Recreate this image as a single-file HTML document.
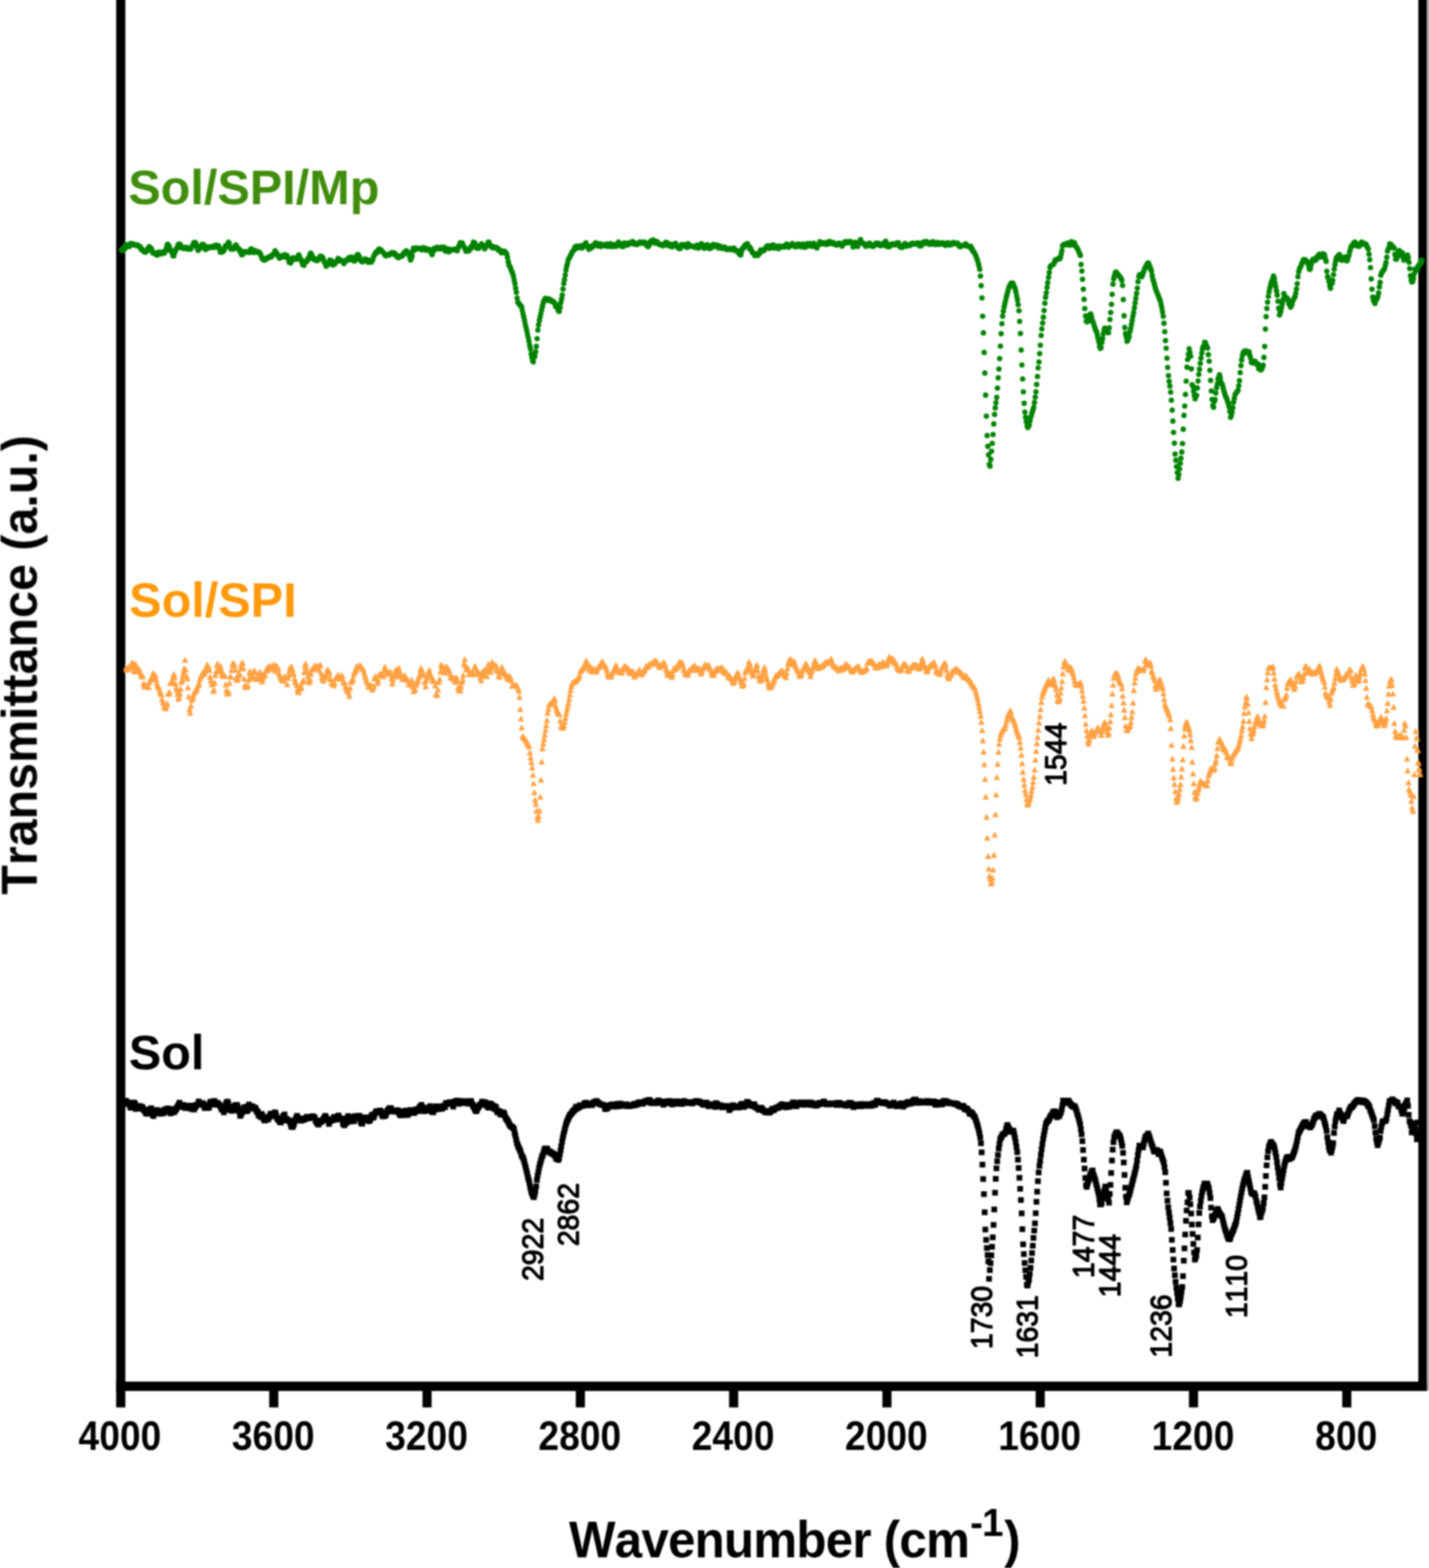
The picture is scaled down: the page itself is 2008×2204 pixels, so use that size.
<!DOCTYPE html>
<html lang="en"><head><meta charset="utf-8"><title>FTIR spectra</title>
<style>
html,body{margin:0;padding:0;background:#fff;}
body{width:2008px;height:2204px;overflow:hidden;}
svg{display:block;font-family:"Liberation Sans",Arial,Helvetica,sans-serif;font-kerning:none;}
</style></head><body>
<svg width="2008" height="2204" viewBox="0 0 2008 2204">
<rect width="2008" height="2204" fill="#fff"/>
<defs><filter id="bl" filterUnits="userSpaceOnUse" x="-20" y="-20" width="2048" height="2244"><feGaussianBlur stdDeviation="0.8"/></filter></defs>
<g filter="url(#bl)">
<g fill="#000">
<rect x="163.2" y="-5" width="12.9" height="1983.3"/>
<rect x="2005" y="-5" width="8" height="1959.6" fill="#bcbcbc"/>
<rect x="1993" y="-5" width="12.5" height="1960"/>
<rect x="163.2" y="1942" width="1842.3" height="13.2"/>
<rect x="378.3" y="1950" width="12.8" height="28.3"/>
<rect x="593.7" y="1950" width="12.8" height="28.3"/>
<rect x="809.1" y="1950" width="12.8" height="28.3"/>
<rect x="1024.5" y="1950" width="12.8" height="28.3"/>
<rect x="1239.9" y="1950" width="12.8" height="28.3"/>
<rect x="1455.3" y="1950" width="12.8" height="28.3"/>
<rect x="1670.7" y="1950" width="12.8" height="28.3"/>
<rect x="1886.1" y="1950" width="12.8" height="28.3"/>
</g>
<path d="M171.3 351.5h0M172.3 350.7h0M173.4 351.7h0M174.4 348.2h0M175.5 349.5h0M176.5 346.5h0M177.5 343.7h0M178.6 345.2h0M179.6 346.2h0M180.7 344.7h0M181.7 346.6h0M182.7 345.3h0M183.8 342.2h0M184.8 344.1h0M185.9 343.3h0M186.9 342.7h0M187.9 343.4h0M189 344.5h0M190 344.8h0M191.1 344.9h0M192.1 344.3h0M193.1 344.4h0M194.2 345.9h0M195.2 345.9h0M196.3 347.1h0M197.3 347.2h0M198.3 350.6h0M199.4 350.1h0M200.4 351.5h0M201.5 352.7h0M202.5 354h0M203.5 353.6h0M204.6 354.6h0M205.6 353.6h0M206.7 352.3h0M207.7 349.6h0M208.7 348.5h0M209.8 346.9h0M210.8 348h0M211.9 350h0M212.9 349.9h0M213.9 353.5h0M215 355.7h0M216 354.7h0M217.1 355.3h0M218.1 356h0M219.1 357.6h0M220.2 358.4h0M221.2 358.5h0M222.3 355.2h0M223.3 354.2h0M224.3 354.5h0M225.4 354.7h0M226.4 356.7h0M227.5 355.4h0M228.5 354.3h0M229.5 354.8h0M230.6 355.9h0M231.6 353.3h0M232.7 353h0M233.7 349.4h0M234.7 344.6h0M235.8 343.2h0M236.8 345.7h0M237.9 346.6h0M238.9 350.6h0M239.9 351.9h0M241 353.9h0M242 355.6h0M243.1 359.6h0M244.1 359.8h0M245.1 356h0M246.2 353.3h0M247.2 350.4h0M248.3 349.7h0M249.3 347.2h0M250.3 344h0M251.4 343h0M252.4 343.5h0M253.5 343.8h0M254.5 348h0M255.5 347.9h0M256.6 348.3h0M257.6 349.3h0M258.7 348.2h0M259.7 349.4h0M260.7 347.5h0M261.8 347.7h0M262.8 349.1h0M263.9 350.1h0M264.9 349.1h0M265.9 350.3h0M267 350h0M268 350.1h0M269.1 347.2h0M270.1 345.6h0M271.1 344.8h0M272.2 341.2h0M273.2 343h0M274.3 340.9h0M275.3 342.7h0M276.3 346.8h0M277.4 349.1h0M278.4 351.9h0M279.5 349.7h0M280.5 349.8h0M281.5 348.5h0M282.6 345.7h0M283.6 343.9h0M284.7 344.3h0M285.7 343.5h0M286.7 344.5h0M287.8 345.9h0M288.8 350.8h0M289.9 349.6h0M290.9 349.2h0M291.9 348.1h0M293 347h0M294 348.2h0M295.1 347.9h0M296.1 347.9h0M297.1 346.8h0M298.2 347h0M299.2 346.6h0M300.3 347.9h0M301.3 346.5h0M302.3 344.9h0M303.4 345.3h0M304.4 344.7h0M305.5 347.6h0M306.5 345.2h0M307.5 346.5h0M308.6 349.7h0M309.6 354.5h0M310.7 353.7h0M311.7 354.5h0M312.7 353.8h0M313.8 352.7h0M314.8 352.1h0M315.9 348.2h0M316.9 345.3h0M317.9 344.7h0M319 344.5h0M320 344.3h0M321.1 340.5h0M322.1 342.3h0M323.1 347.8h0M324.2 349.7h0M325.2 350.2h0M326.3 350.1h0M327.3 348.8h0M328.3 349.9h0M329.4 347.2h0M330.4 345.8h0M331.5 344.2h0M332.5 345.9h0M333.5 348.8h0M334.6 349h0M335.6 349.9h0M336.7 352.8h0M337.7 351.7h0M338.7 356.1h0M339.8 358.2h0M340.8 357.7h0M341.9 355.5h0M342.9 353.7h0M343.9 354.7h0M345 353.9h0M346 354.2h0M347.1 354.4h0M348.1 353.8h0M349.1 353.7h0M350.2 354.9h0M351.2 352.7h0M352.3 350.3h0M353.3 349.7h0M354.3 351.2h0M355.4 354.4h0M356.4 354.9h0M357.5 352.4h0M358.5 352.2h0M359.5 353.7h0M360.6 354.5h0M361.6 353.9h0M362.7 354.7h0M363.7 354h0M364.7 355.8h0M365.8 356.5h0M366.8 359.3h0M367.9 362h0M368.9 364.2h0M369.9 364.3h0M371 365.8h0M372 364.7h0M373.1 365.1h0M374.1 363.6h0M375.1 362.3h0M376.2 362.4h0M377.2 362.4h0M378.3 362.1h0M379.3 360.4h0M380.3 361.3h0M381.4 361h0M382.4 358.7h0M383.5 357.7h0M384.5 356.9h0M385.5 355.6h0M386.6 352.6h0M387.6 355.1h0M388.7 355.6h0M389.7 357.8h0M390.7 359.9h0M391.8 360.4h0M392.8 362.9h0M393.9 361.3h0M394.9 361.6h0M395.9 359.5h0M397 359.3h0M398 359.1h0M399.1 361.2h0M400.1 358h0M401.1 358.7h0M402.2 358.9h0M403.2 359.1h0M404.3 362.2h0M405.3 364h0M406.3 368.8h0M407.4 369.2h0M408.4 369.7h0M409.5 367.1h0M410.5 364.6h0M411.5 362.4h0M412.6 362.9h0M413.6 364.5h0M414.7 364h0M415.7 364.2h0M416.7 362.7h0M417.8 364.1h0M418.8 360.3h0M419.9 358.2h0M420.9 361.6h0M421.9 363.8h0M423 365.1h0M424 367.4h0M425.1 371.6h0M426.1 372.5h0M427.1 373h0M428.2 368.7h0M429.2 368.1h0M430.3 366.9h0M431.3 367.6h0M432.3 364.2h0M433.4 364.3h0M434.4 361.2h0M435.5 358.1h0M436.5 355.9h0M437.5 357h0M438.6 360.1h0M439.6 362.2h0M440.7 364.6h0M441.7 363.3h0M442.7 363.9h0M443.8 366.1h0M444.8 364.5h0M445.9 366.2h0M446.9 365.4h0M447.9 364.4h0M449 362.1h0M450 360.4h0M451.1 360.2h0M452.1 361.2h0M453.1 361.2h0M454.2 364.1h0M455.2 366.7h0M456.3 368.8h0M457.3 371.3h0M458.3 374.2h0M459.4 372.4h0M460.4 372.2h0M461.5 370.9h0M462.5 369.1h0M463.5 365.6h0M464.6 367.4h0M465.6 366.3h0M466.7 370.9h0M467.7 372.5h0M468.7 370.6h0M469.8 371.8h0M470.8 368.8h0M471.9 368.5h0M472.9 368.1h0M473.9 366.2h0M475 363.4h0M476 363.7h0M477.1 365.8h0M478.1 366.7h0M479.1 365.8h0M480.2 366.3h0M481.2 367.3h0M482.3 368h0M483.3 370.4h0M484.3 367.8h0M485.4 366.6h0M486.4 366.7h0M487.5 364.8h0M488.5 365.5h0M489.5 365.5h0M490.6 362.1h0M491.6 362.4h0M492.7 362.5h0M493.7 361.4h0M494.7 365.2h0M495.8 363.1h0M496.8 365.2h0M497.9 367.1h0M498.9 366h0M499.9 363.4h0M501 359.9h0M502 358.4h0M503.1 357.7h0M504.1 360.6h0M505.1 361h0M506.2 365.6h0M507.2 366.6h0M508.3 367.7h0M509.3 368.1h0M510.3 367h0M511.4 366.9h0M512.4 364.3h0M513.5 364.1h0M514.5 365.5h0M515.5 365.2h0M516.6 367.6h0M517.6 368.8h0M518.7 365.8h0M519.7 367.6h0M520.7 367.2h0M521.8 368.5h0M522.8 365.5h0M523.9 365h0M524.9 360.8h0M525.9 359.3h0M527 356.8h0M528 354.9h0M529.1 353.7h0M530.1 355.1h0M531.1 353.4h0M532.2 350.4h0M533.2 350h0M534.3 351.5h0M535.3 351.4h0M536.3 352.8h0M537.4 353.7h0M538.4 354.7h0M539.5 356.4h0M540.5 357.3h0M541.5 359.3h0M542.6 359.7h0M543.6 357.9h0M544.7 358.8h0M545.7 358.5h0M546.7 358.4h0M547.8 357h0M548.8 356.1h0M549.9 357h0M550.9 355.1h0M551.9 355.7h0M553 355.2h0M554 355.5h0M555.1 357.8h0M556.1 357.7h0M557.1 360.3h0M558.2 360.4h0M559.2 362.1h0M560.3 362.1h0M561.3 360.6h0M562.3 359.9h0M563.4 360.4h0M564.4 360.3h0M565.5 359.6h0M566.5 357.5h0M567.5 355.2h0M568.6 356.6h0M569.6 356.3h0M570.7 352.6h0M571.7 353.1h0M572.7 354.4h0M573.8 355.3h0M574.8 357.6h0M575.9 361.7h0M576.9 365.5h0M577.9 363h0M579 359.9h0M580 353.3h0M581.1 348.9h0M582.1 348.9h0M583.1 351.3h0M584.2 350.5h0M585.2 349.8h0M586.3 348.6h0M587.3 348.7h0M588.3 349h0M589.4 349.3h0M590.4 349.9h0M591.5 350.6h0M592.5 351.2h0M593.5 348.5h0M594.6 348.2h0M595.6 348.3h0M596.7 349.8h0M597.7 350.4h0M598.7 351.8h0M599.8 349.8h0M600.8 350.9h0M601.9 350.7h0M602.9 350.5h0M603.9 351.5h0M605 354h0M606 354.6h0M607.1 357.9h0M608.1 354.3h0M609.1 352h0M610.2 349h0M611.2 348.7h0M612.3 350.5h0M613.3 349h0M614.3 347.6h0M615.4 348.2h0M616.4 348.5h0M617.5 349.5h0M618.5 350.1h0M619.5 347.7h0M620.6 349.2h0M621.6 347.4h0M622.7 348h0M623.7 348.4h0M624.7 347.9h0M625.8 353h0M626.8 353.1h0M627.9 351.8h0M628.9 351.4h0M629.9 350h0M631 353.9h0M632 351.5h0M633.1 350.5h0M634.1 351.4h0M635.1 351.3h0M636.2 351.1h0M637.2 351.2h0M638.3 350.2h0M639.3 350.3h0M640.3 350.9h0M641.4 351.4h0M642.4 352.4h0M643.5 349h0M644.5 346.7h0M645.5 344.9h0M646.6 341.2h0M647.6 343h0M648.7 341.2h0M649.7 341.7h0M650.7 345.4h0M651.8 346.6h0M652.8 348.6h0M653.9 350h0M654.9 353.2h0M655.9 351.3h0M657 353h0M658 352.6h0M659.1 352.4h0M660.1 349.8h0M661.1 347.9h0M662.2 348.9h0M663.2 346.4h0M664.3 343.5h0M665.3 340.4h0M666.3 341.8h0M667.4 341.7h0M668.4 345.5h0M669.5 348.3h0M670.5 348.9h0M671.5 349h0M672.6 349h0M673.6 347h0M674.7 345.3h0M675.7 344.6h0M676.7 342.8h0M677.8 345.5h0M678.8 345.4h0M679.9 346.1h0M680.9 349.7h0M681.9 348.8h0M683 345.9h0M684 344.7h0M685.1 343.2h0M686.1 340.2h0M687.1 340.5h0M688.2 344.1h0M689.2 344.9h0M690.3 346.8h0M691.3 347.6h0M692.3 348.4h0M693.4 346.9h0M694.4 348.1h0M695.5 348.4h0M696.5 348.6h0M697.5 347.9h0M698.6 348.6h0M699.6 349.3h0M700.7 352h0M701.7 351.2h0M702.7 351.8h0M703.8 353.6h0M704.8 355.4h0M705.9 352.9h0M706.9 354.6h0M707.9 354.9h0M709 353.3h0M710 354.7h0M711.1 355.5h0M712.1 357h0M713.1 361.7h0M714.2 367.9h0M715.2 372.7h0M716.3 374h0M717.3 376.5h0M718.3 379.8h0M719.4 382.2h0M720.4 384.2h0M721.5 388.4h0M722.5 393.5h0M723.5 398.6h0M724.6 405.1h0M725.6 411h0M726.7 419.1h0M727.7 424.9h0M728.7 426.1h0M729.8 427.4h0M730.8 428.9h0M731.9 429.9h0M732.9 431.3h0M733.9 436h0M735 441.2h0M736 445.5h0M737.1 450.4h0M738.1 455.7h0M739.1 460h0M740.2 464.7h0M741.2 469.8h0M742.3 474.7h0M743.3 480h0M744.3 485.6h0M745.4 490.4h0M746.4 497.6h0M747.5 502.9h0M748.5 507.2h0M749.5 508.7h0M750.6 502.2h0M751.6 500.5h0M752.7 494.6h0M753.7 486.9h0M754.7 476h0M755.8 464h0M756.8 456.8h0M757.9 450.5h0M758.9 445.6h0M759.9 441.2h0M761 436.1h0M762 431h0M763.1 426.9h0M764.1 423.6h0M765.1 421.5h0M766.2 419.5h0M767.2 419.6h0M768.3 419.7h0M769.3 422h0M770.3 421.6h0M771.4 420.4h0M772.4 422.1h0M773.5 421.2h0M774.5 423.5h0M775.5 422.8h0M776.6 423.4h0M777.6 424.8h0M778.7 424.7h0M779.7 426.7h0M780.7 430.7h0M781.8 429h0M782.8 431.6h0M783.9 434.9h0M784.9 437.2h0M785.9 437.8h0M787 432.2h0M788 425.5h0M789.1 420.3h0M790.1 414.7h0M791.1 406.4h0M792.2 398.5h0M793.2 393.1h0M794.3 386.5h0M795.3 379.6h0M796.3 374.2h0M797.4 370.2h0M798.4 365.7h0M799.5 363.1h0M800.5 361.8h0M801.5 359.4h0M802.6 357.7h0M803.6 355.1h0M804.7 353.3h0M805.7 352.2h0M806.7 350.9h0M807.8 347.6h0M808.8 347.7h0M809.9 346h0M810.9 348.7h0M811.9 347h0M813 347.3h0M814 345.8h0M815.1 346.5h0M816.1 348.3h0M817.1 347.7h0M818.2 348.6h0M819.2 344.8h0M820.3 346.4h0M821.3 344h0M822.3 344.4h0M823.4 341.2h0M824.4 346h0M825.5 346.3h0M826.5 347.3h0M827.5 350.6h0M828.6 349.6h0M829.6 349h0M830.7 348.6h0M831.7 345.5h0M832.7 346h0M833.8 346.3h0M834.8 345.4h0M835.9 342.6h0M836.9 341.4h0M837.9 342.5h0M839 343.4h0M840 345.4h0M841.1 344.6h0M842.1 342.5h0M843.1 346.2h0M844.2 346.6h0M845.2 343.2h0M846.3 343.8h0M847.3 343.7h0M848.3 344.7h0M849.4 345h0M850.4 345.7h0M851.5 345.8h0M852.5 343.1h0M853.5 346.3h0M854.6 344.9h0M855.6 346.2h0M856.7 344.5h0M857.7 342.6h0M858.7 345h0M859.8 346.7h0M860.8 345.1h0M861.9 345.7h0M862.9 345.5h0M863.9 343.8h0M865 346.4h0M866 344.5h0M867.1 343.6h0M868.1 343.3h0M869.1 340.3h0M870.2 342.6h0M871.2 345.5h0M872.3 344.3h0M873.3 343.3h0M874.3 346.3h0M875.4 346.8h0M876.4 344.3h0M877.5 341.5h0M878.5 342.1h0M879.5 343.8h0M880.6 343.7h0M881.6 344.6h0M882.7 342.3h0M883.7 341.4h0M884.7 342.6h0M885.8 341.9h0M886.8 341.4h0M887.9 342.4h0M888.9 339.5h0M889.9 340.6h0M891 341.3h0M892 343.3h0M893.1 342.4h0M894.1 343.7h0M895.1 343.7h0M896.2 343h0M897.2 342.3h0M898.3 341.2h0M899.3 340.1h0M900.3 341.7h0M901.4 341h0M902.4 342h0M903.5 340.6h0M904.5 340.5h0M905.5 340.4h0M906.6 341.2h0M907.6 342.4h0M908.7 345.1h0M909.7 343.4h0M910.7 346.8h0M911.8 345.3h0M912.8 342.3h0M913.9 339.6h0M914.9 341h0M915.9 338.1h0M917 338.4h0M918 337.4h0M919.1 338.8h0M920.1 341.8h0M921.1 341.2h0M922.2 341.3h0M923.2 339.5h0M924.3 341.5h0M925.3 343h0M926.3 342.7h0M927.4 344h0M928.4 343.8h0M929.5 343.8h0M930.5 345.1h0M931.5 345.4h0M932.6 343.3h0M933.6 343.1h0M934.7 344.4h0M935.7 340.6h0M936.7 343.6h0M937.8 341.2h0M938.8 343.9h0M939.9 345.5h0M940.9 344.4h0M941.9 345.7h0M943 343.2h0M944 346.9h0M945.1 345.7h0M946.1 344.3h0M947.1 345.5h0M948.2 344.6h0M949.2 342h0M950.3 345.6h0M951.3 347h0M952.3 347.6h0M953.4 348.3h0M954.4 349.5h0M955.5 349.4h0M956.5 347h0M957.5 343.9h0M958.6 345.1h0M959.6 345.9h0M960.7 344h0M961.7 343.8h0M962.7 345.4h0M963.8 346.3h0M964.8 347.4h0M965.9 347.8h0M966.9 342.5h0M967.9 344.5h0M969 344.9h0M970 345.7h0M971.1 345.6h0M972.1 346.2h0M973.1 346.4h0M974.2 346.8h0M975.2 347.4h0M976.3 347.2h0M977.3 346.4h0M978.3 348h0M979.4 344.5h0M980.4 345.2h0M981.5 348.8h0M982.5 347.8h0M983.5 347.1h0M984.6 346.4h0M985.6 342.6h0M986.7 346.8h0M987.7 344.2h0M988.7 345.4h0M989.8 349.1h0M990.8 347.1h0M991.9 348.1h0M992.9 347.4h0M993.9 344h0M995 344.7h0M996 347.7h0M997.1 349.5h0M998.1 348.9h0M999.1 345.8h0M1000.2 348.1h0M1001.2 346.5h0M1002.3 343.6h0M1003.3 346h0M1004.3 345.9h0M1005.4 345.3h0M1006.4 345.3h0M1007.5 344.2h0M1008.5 347.5h0M1009.5 348.6h0M1010.6 347.8h0M1011.6 346h0M1012.7 347h0M1013.7 347.9h0M1014.7 349.3h0M1015.8 347.6h0M1016.8 348.2h0M1017.9 347.3h0M1018.9 348.1h0M1019.9 349.9h0M1021 350.7h0M1022 349.5h0M1023.1 350.7h0M1024.1 350.7h0M1025.1 349.2h0M1026.2 350h0M1027.2 349.6h0M1028.3 351h0M1029.3 350.9h0M1030.3 350.1h0M1031.4 348.7h0M1032.4 350.7h0M1033.5 351.3h0M1034.5 353h0M1035.5 352.6h0M1036.6 352.8h0M1037.6 352.9h0M1038.7 356.8h0M1039.7 357.7h0M1040.7 358.5h0M1041.8 354.7h0M1042.8 350.3h0M1043.9 348.4h0M1044.9 348.8h0M1045.9 346.7h0M1047 344.4h0M1048 344.4h0M1049.1 343.2h0M1050.1 342.5h0M1051.1 345.5h0M1052.2 346.2h0M1053.2 349.8h0M1054.3 348.2h0M1055.3 351.2h0M1056.3 352.6h0M1057.4 355.2h0M1058.4 355.7h0M1059.5 356.3h0M1060.5 359.2h0M1061.5 358.5h0M1062.6 356.9h0M1063.6 358.1h0M1064.7 359.1h0M1065.7 357.8h0M1066.7 355.5h0M1067.8 355.8h0M1068.8 351.4h0M1069.9 352.4h0M1070.9 352.1h0M1071.9 351.3h0M1073 352.5h0M1074 351.6h0M1075.1 349.6h0M1076.1 348.2h0M1077.1 347.3h0M1078.2 345.6h0M1079.2 348.2h0M1080.3 345.7h0M1081.3 349.3h0M1082.3 346.5h0M1083.4 345.4h0M1084.4 345.6h0M1085.5 345h0M1086.5 344.4h0M1087.5 348.7h0M1088.6 348.4h0M1089.6 347.4h0M1090.7 346h0M1091.7 346.7h0M1092.7 346.5h0M1093.8 349.5h0M1094.8 345.9h0M1095.9 346.6h0M1096.9 346.7h0M1097.9 347.5h0M1099 346.4h0M1100 346.1h0M1101.1 346.7h0M1102.1 347.2h0M1103.1 345.2h0M1104.2 345.7h0M1105.2 343h0M1106.3 345h0M1107.3 344.7h0M1108.3 347.5h0M1109.4 345.3h0M1110.4 345.5h0M1111.5 343.8h0M1112.5 345h0M1113.5 342.2h0M1114.6 345h0M1115.6 345.3h0M1116.7 346.6h0M1117.7 346h0M1118.7 346.7h0M1119.8 346.7h0M1120.8 343h0M1121.9 343.6h0M1122.9 343.4h0M1123.9 344.1h0M1125 345.6h0M1126 347h0M1127.1 345.8h0M1128.1 343h0M1129.1 346.8h0M1130.2 346.5h0M1131.2 347.8h0M1132.3 344.2h0M1133.3 345.9h0M1134.3 342.6h0M1135.4 345.7h0M1136.4 343.7h0M1137.5 344.1h0M1138.5 342.4h0M1139.5 345.8h0M1140.6 344.9h0M1141.6 346.2h0M1142.7 343.5h0M1143.7 342h0M1144.7 343.9h0M1145.8 345.1h0M1146.8 347.2h0M1147.9 348.6h0M1148.9 344.9h0M1149.9 344.3h0M1151 343.7h0M1152 339.7h0M1153.1 340.6h0M1154.1 342.6h0M1155.1 342.8h0M1156.2 342.4h0M1157.2 341.4h0M1158.3 342.6h0M1159.3 343.3h0M1160.3 341.2h0M1161.4 341h0M1162.4 343.5h0M1163.5 342.9h0M1164.5 342.5h0M1165.5 339.4h0M1166.6 340.5h0M1167.6 342.2h0M1168.7 342.2h0M1169.7 341.6h0M1170.7 340.8h0M1171.8 342.3h0M1172.8 343.6h0M1173.9 343.4h0M1174.9 343.8h0M1175.9 344.6h0M1177 342.6h0M1178 342.1h0M1179.1 342.2h0M1180.1 341.7h0M1181.1 343.6h0M1182.2 343.4h0M1183.2 346h0M1184.3 343.2h0M1185.3 342.7h0M1186.3 342.5h0M1187.4 339.8h0M1188.4 341.5h0M1189.5 341h0M1190.5 339.5h0M1191.5 340.4h0M1192.6 341.1h0M1193.6 339.7h0M1194.7 339.3h0M1195.7 340.2h0M1196.7 341.6h0M1197.8 341.9h0M1198.8 347.2h0M1199.9 344.6h0M1200.9 343.3h0M1201.9 340.6h0M1203 341.3h0M1204 342.6h0M1205.1 346.5h0M1206.1 341.8h0M1207.1 341.7h0M1208.2 340.4h0M1209.2 336.8h0M1210.3 339.7h0M1211.3 341.9h0M1212.3 341.7h0M1213.4 342h0M1214.4 343h0M1215.5 344.2h0M1216.5 346.2h0M1217.5 344.8h0M1218.6 345.6h0M1219.6 343.4h0M1220.7 342.3h0M1221.7 341.9h0M1222.7 344.6h0M1223.8 343.6h0M1224.8 345.9h0M1225.9 345.5h0M1226.9 346.4h0M1227.9 345.1h0M1229 343.8h0M1230 343.8h0M1231.1 341.9h0M1232.1 341.9h0M1233.1 343.7h0M1234.2 344.2h0M1235.2 342.3h0M1236.3 344.5h0M1237.3 345.2h0M1238.3 344.6h0M1239.4 344.5h0M1240.4 344.7h0M1241.5 344.2h0M1242.5 341.2h0M1243.5 341h0M1244.6 339h0M1245.6 343.4h0M1246.7 346.8h0M1247.7 345.7h0M1248.7 347h0M1249.8 346.7h0M1250.8 343.5h0M1251.9 344.7h0M1252.9 343.9h0M1253.9 342.7h0M1255 343h0M1256 343.9h0M1257.1 344.1h0M1258.1 344.2h0M1259.1 342.6h0M1260.2 341.5h0M1261.2 342.1h0M1262.3 341.2h0M1263.3 343.4h0M1264.3 346.2h0M1265.4 347.4h0M1266.4 347.2h0M1267.5 347.9h0M1268.5 345.3h0M1269.5 346.3h0M1270.6 345.2h0M1271.6 342.3h0M1272.7 345h0M1273.7 346.1h0M1274.7 344.9h0M1275.8 345.1h0M1276.8 344.1h0M1277.9 343.7h0M1278.9 345.1h0M1279.9 343.1h0M1281 342.3h0M1282 341.9h0M1283.1 342.9h0M1284.1 342.8h0M1285.1 343.2h0M1286.2 343.2h0M1287.2 342.6h0M1288.3 341.5h0M1289.3 341.8h0M1290.3 341.6h0M1291.4 342.5h0M1292.4 345.7h0M1293.5 343.6h0M1294.5 345.4h0M1295.5 341.7h0M1296.6 342h0M1297.6 340.2h0M1298.7 342.3h0M1299.7 339.7h0M1300.7 341.6h0M1301.8 339.5h0M1302.8 341.4h0M1303.9 341.3h0M1304.9 343.1h0M1305.9 343.3h0M1307 342.2h0M1308 340.8h0M1309.1 343.2h0M1310.1 341.7h0M1311.1 339.7h0M1312.2 341.3h0M1313.2 342.2h0M1314.3 343.8h0M1315.3 343.7h0M1316.3 342.5h0M1317.4 340.9h0M1318.4 341.9h0M1319.5 343.4h0M1320.5 342h0M1321.5 341.9h0M1322.6 342.8h0M1323.6 343.1h0M1324.7 341.3h0M1325.7 342.4h0M1326.7 343.1h0M1327.8 344.3h0M1328.8 345h0M1329.9 342.2h0M1330.9 341.2h0M1331.9 343.6h0M1333 341.5h0M1334 342.7h0M1335.1 344.5h0M1336.1 343.3h0M1337.1 342.1h0M1338.2 343.1h0M1339.2 341.1h0M1340.3 341h0M1341.3 342.1h0M1342.3 342.7h0M1343.4 341.8h0M1344.4 342h0M1345.5 341.8h0M1346.5 343.1h0M1347.5 344.9h0M1348.6 346.8h0M1349.6 346.7h0M1350.7 345.8h0M1351.7 345.3h0M1352.7 345.3h0M1353.8 344.7h0M1354.8 345.1h0M1355.9 343.9h0M1356.9 342.7h0M1357.9 345.4h0M1359 345.5h0M1360 345.5h0M1361.1 346.8h0M1362.1 346.7h0M1363.1 346.2h0M1364.2 346.2h0M1365.2 350.1h0M1366.3 350.3h0M1367.3 353.5h0M1368.3 354h0M1369.4 355.6h0M1370.4 358.1h0M1371.5 360h0M1372.5 362.9h0M1373.5 365.7h0M1374.6 369.5h0M1375.6 373.5h0M1376.7 378.6h0M1377.7 388h0M1378.7 401.6h0M1379.8 418.8h0M1380.8 444.5h0M1381.9 467.9h0M1382.9 495.4h0M1383.9 524.4h0M1385 555.4h0M1386 585h0M1387.1 612.3h0M1388.1 627.4h0M1389.1 639.4h0M1390.2 652.6h0M1391.2 655.3h0M1392.3 645.8h0M1393.3 634.3h0M1394.3 623.3h0M1395.4 610.8h0M1396.4 595.9h0M1397.5 582.6h0M1398.5 573.4h0M1399.5 566h0M1400.6 558.6h0M1401.6 545.6h0M1402.7 531.1h0M1403.7 518.8h0M1404.7 504.1h0M1405.8 486.5h0M1406.8 469.1h0M1407.9 455h0M1408.9 444.5h0M1409.9 437.5h0M1411 431.5h0M1412 426.8h0M1413.1 422.2h0M1414.1 417.4h0M1415.1 413.6h0M1416.2 409.2h0M1417.2 405.8h0M1418.3 402.6h0M1419.3 401.4h0M1420.3 398.9h0M1421.4 397.8h0M1422.4 397.9h0M1423.5 398.3h0M1424.5 401h0M1425.5 403.6h0M1426.6 406.2h0M1427.6 410.6h0M1428.7 416.3h0M1429.7 421.6h0M1430.7 428.3h0M1431.8 436.8h0M1432.8 451.7h0M1433.9 468.7h0M1434.9 492.1h0M1435.9 513h0M1437 532.8h0M1438 550.8h0M1439.1 566.9h0M1440.1 579.2h0M1441.1 586.6h0M1442.2 592.7h0M1443.2 598.5h0M1444.3 601h0M1445.3 599.1h0M1446.3 597.3h0M1447.4 591.2h0M1448.4 586.5h0M1449.5 582.7h0M1450.5 579.3h0M1451.5 576h0M1452.6 572.8h0M1453.6 565.9h0M1454.7 558.2h0M1455.7 550.8h0M1456.7 540.4h0M1457.8 529.3h0M1458.8 517h0M1459.9 508.8h0M1460.9 497.1h0M1461.9 485.3h0M1463 471.5h0M1464 462.2h0M1465.1 454.1h0M1466.1 445.9h0M1467.1 436.6h0M1468.2 426.2h0M1469.2 417.9h0M1470.3 411.6h0M1471.3 404.1h0M1472.3 397.3h0M1473.4 389.7h0M1474.4 383h0M1475.5 375.9h0M1476.5 373.8h0M1477.5 373h0M1478.6 372.5h0M1479.6 372h0M1480.7 371.1h0M1481.7 368.8h0M1482.7 365.5h0M1483.8 366h0M1484.8 364.6h0M1485.9 364.5h0M1486.9 363.4h0M1487.9 364.1h0M1489 363.9h0M1490 361.9h0M1491.1 357.6h0M1492.1 352.2h0M1493.1 345.4h0M1494.2 344.1h0M1495.2 344.1h0M1496.3 343.5h0M1497.3 342.8h0M1498.3 343.1h0M1499.4 344.1h0M1500.4 341.5h0M1501.5 342.4h0M1502.5 342.4h0M1503.5 344.6h0M1504.6 340.9h0M1505.6 339.8h0M1506.7 344h0M1507.7 341.8h0M1508.7 343.7h0M1509.8 341.2h0M1510.8 345h0M1511.9 346.4h0M1512.9 347.8h0M1513.9 349.5h0M1515 351.3h0M1516 354.2h0M1517.1 356.6h0M1518.1 359h0M1519.1 371.8h0M1520.2 381h0M1521.2 392.6h0M1522.3 406.5h0M1523.3 420.7h0M1524.3 433.7h0M1525.4 444h0M1526.4 451.2h0M1527.5 452.5h0M1528.5 451.9h0M1529.5 448.8h0M1530.6 445.6h0M1531.6 442.1h0M1532.7 441.4h0M1533.7 445.4h0M1534.7 450.1h0M1535.8 452.2h0M1536.8 455.3h0M1537.9 458.7h0M1538.9 461.8h0M1539.9 464.7h0M1541 466.8h0M1542 471.4h0M1543.1 476.1h0M1544.1 480.7h0M1545.1 486.7h0M1546.2 489.8h0M1547.2 488.6h0M1548.3 481.2h0M1549.3 475.9h0M1550.3 469.3h0M1551.4 464.6h0M1552.4 461.2h0M1553.5 463.4h0M1554.5 464.4h0M1555.5 465.2h0M1556.6 466.5h0M1557.6 467.8h0M1558.7 460.9h0M1559.7 449.1h0M1560.7 439.3h0M1561.8 427.8h0M1562.8 413.8h0M1563.9 399.5h0M1564.9 392h0M1565.9 387.7h0M1567 384.1h0M1568 382.3h0M1569.1 383.3h0M1570.1 384.7h0M1571.1 386h0M1572.2 387.4h0M1573.2 388.2h0M1574.3 389.9h0M1575.3 391.6h0M1576.3 393.9h0M1577.4 401.3h0M1578.4 421.1h0M1579.5 443.9h0M1580.5 460.4h0M1581.5 468.7h0M1582.6 473.7h0M1583.6 479.8h0M1584.7 478.1h0M1585.7 475.5h0M1586.7 472.8h0M1587.8 465.9h0M1588.8 461.9h0M1589.9 456.1h0M1590.9 450.6h0M1591.9 444.8h0M1593 439.2h0M1594 432.7h0M1595.1 425.9h0M1596.1 419.3h0M1597.1 412.5h0M1598.2 405h0M1599.2 396h0M1600.3 388.8h0M1601.3 386h0M1602.3 387.2h0M1603.4 387.8h0M1604.4 388.9h0M1605.5 386.3h0M1606.5 383.1h0M1607.5 380.7h0M1608.6 377h0M1609.6 376.6h0M1610.7 373h0M1611.7 372h0M1612.7 369.9h0M1613.8 369.8h0M1614.8 372.5h0M1615.9 374.9h0M1616.9 377.9h0M1617.9 380.9h0M1619 387.2h0M1620 392.5h0M1621.1 395.6h0M1622.1 399.4h0M1623.1 403.6h0M1624.2 407.2h0M1625.2 409.8h0M1626.3 412.6h0M1627.3 414.8h0M1628.3 417.5h0M1629.4 420.3h0M1630.4 422.8h0M1631.5 427.9h0M1632.5 432.6h0M1633.5 438.3h0M1634.6 444.6h0M1635.6 454.4h0M1636.7 466.3h0M1637.7 478.7h0M1638.7 489.5h0M1639.8 503.5h0M1640.8 516.5h0M1641.9 528h0M1642.9 536.1h0M1643.9 542.7h0M1645 551.2h0M1646 562.6h0M1647.1 576.6h0M1648.1 591.9h0M1649.1 607.7h0M1650.2 623h0M1651.2 638.2h0M1652.3 646.9h0M1653.3 655.7h0M1654.3 664.2h0M1655.4 672.3h0M1656.4 667.1h0M1657.5 659.3h0M1658.5 651.3h0M1659.5 644.1h0M1660.6 635.4h0M1661.6 623.5h0M1662.7 603.4h0M1663.7 583.9h0M1664.7 570.8h0M1665.8 554.4h0M1666.8 535.8h0M1667.9 516.1h0M1668.9 505.2h0M1669.9 498.1h0M1671 490.3h0M1672 495.2h0M1673.1 500.7h0M1674.1 518.6h0M1675.1 540.7h0M1676.2 542.9h0M1677.2 550h0M1678.3 555.7h0M1679.3 560.6h0M1680.3 556.5h0M1681.4 555.7h0M1682.4 545.4h0M1683.5 535.6h0M1684.5 526.3h0M1685.5 518.9h0M1686.6 510.7h0M1687.6 503.2h0M1688.7 496.3h0M1689.7 490.3h0M1690.7 487.2h0M1691.8 486.2h0M1692.8 481.1h0M1693.9 481.7h0M1694.9 485.3h0M1695.9 487.2h0M1697 489.2h0M1698 498.5h0M1699.1 507.8h0M1700.1 520.5h0M1701.1 534.7h0M1702.2 549.5h0M1703.2 561.6h0M1704.3 570h0M1705.3 572.5h0M1706.3 564.6h0M1707.4 561.6h0M1708.4 552.5h0M1709.5 545.1h0M1710.5 539.8h0M1711.5 532.7h0M1712.6 530h0M1713.6 526.7h0M1714.7 531.2h0M1715.7 536.8h0M1716.7 539.4h0M1717.8 541h0M1718.8 545.2h0M1719.9 549.5h0M1720.9 553h0M1721.9 556.5h0M1723 558.6h0M1724 561h0M1725.1 564.5h0M1726.1 567.4h0M1727.1 572h0M1728.2 578.4h0M1729.2 586.6h0M1730.3 584.1h0M1731.3 578.9h0M1732.3 573h0M1733.4 565.5h0M1734.4 560.1h0M1735.5 554.8h0M1736.5 553.2h0M1737.5 551.5h0M1738.6 550.3h0M1739.6 548.9h0M1740.7 542.2h0M1741.7 535h0M1742.7 523.8h0M1743.8 513.9h0M1744.8 505.9h0M1745.9 499.6h0M1746.9 495.7h0M1747.9 494.6h0M1749 493.2h0M1750 495.8h0M1751.1 493.3h0M1752.1 493.8h0M1753.1 494.9h0M1754.2 496.6h0M1755.2 494.6h0M1756.3 499.4h0M1757.3 503.3h0M1758.3 509.2h0M1759.4 510.1h0M1760.4 508.6h0M1761.5 509.6h0M1762.5 509.2h0M1763.5 507.9h0M1764.6 510.4h0M1765.6 511.9h0M1766.7 512.5h0M1767.7 511.6h0M1768.7 518.3h0M1769.8 518.9h0M1770.8 518.7h0M1771.9 519.9h0M1772.9 518.7h0M1773.9 516.2h0M1775 513.3h0M1776 502.4h0M1777.1 487.1h0M1778.1 462.6h0M1779.1 445.1h0M1780.2 433.6h0M1781.2 424.7h0M1782.3 416.5h0M1783.3 410h0M1784.3 404.8h0M1785.4 400.8h0M1786.4 396.7h0M1787.5 394.4h0M1788.5 391.8h0M1789.5 388.1h0M1790.6 391.9h0M1791.6 397.5h0M1792.7 402.9h0M1793.7 408.9h0M1794.7 415h0M1795.8 423.6h0M1796.8 433.4h0M1797.9 442.8h0M1798.9 439.8h0M1799.9 436.6h0M1801 431.6h0M1802 426.5h0M1803.1 420.7h0M1804.1 412.8h0M1805.1 415.9h0M1806.2 419.5h0M1807.2 419.8h0M1808.3 418.7h0M1809.3 420h0M1810.3 422.7h0M1811.4 427.2h0M1812.4 428.8h0M1813.5 431.8h0M1814.5 429.8h0M1815.5 427.4h0M1816.6 423h0M1817.6 421h0M1818.7 418.5h0M1819.7 417.2h0M1820.7 412.6h0M1821.8 406.4h0M1822.8 398.7h0M1823.9 389h0M1824.9 382.1h0M1825.9 378.3h0M1827 375.7h0M1828 374.4h0M1829.1 370.7h0M1830.1 368.8h0M1831.1 365.8h0M1832.2 364.8h0M1833.2 367h0M1834.3 365.2h0M1835.3 366.3h0M1836.3 368.1h0M1837.4 368.9h0M1838.4 372.1h0M1839.5 377.5h0M1840.5 378.8h0M1841.5 377h0M1842.6 371.4h0M1843.6 367h0M1844.7 365.1h0M1845.7 364.4h0M1846.7 364.4h0M1847.8 366.2h0M1848.8 364h0M1849.9 364.4h0M1850.9 360.7h0M1851.9 360.4h0M1853 358.6h0M1854 357.4h0M1855.1 361h0M1856.1 361.2h0M1857.1 358.6h0M1858.2 357.7h0M1859.2 356.8h0M1860.3 357.2h0M1861.3 358.6h0M1862.3 363.4h0M1863.4 367.4h0M1864.4 381.2h0M1865.5 388.9h0M1866.5 391h0M1867.5 395.7h0M1868.6 401.9h0M1869.6 405.3h0M1870.7 399.1h0M1871.7 398.4h0M1872.7 394.1h0M1873.8 386h0M1874.8 378.2h0M1875.9 372.1h0M1876.9 366.7h0M1877.9 362.4h0M1879 363.6h0M1880 360.3h0M1881.1 359.1h0M1882.1 357.9h0M1883.1 361.1h0M1884.2 365.3h0M1885.2 365.7h0M1886.3 365.8h0M1887.3 363.9h0M1888.3 363.8h0M1889.4 361.4h0M1890.4 362.9h0M1891.5 364.3h0M1892.5 366.8h0M1893.5 365.8h0M1894.6 360.9h0M1895.6 358.5h0M1896.7 353.3h0M1897.7 349.5h0M1898.7 346h0M1899.8 345.6h0M1900.8 345.2h0M1901.9 341.9h0M1902.9 341.6h0M1903.9 340.4h0M1905 345.1h0M1906 344.4h0M1907.1 345h0M1908.1 345.9h0M1909.1 343.2h0M1910.2 346.1h0M1911.2 343.9h0M1912.3 342.8h0M1913.3 340.4h0M1914.3 341h0M1915.4 343.3h0M1916.4 342.8h0M1917.5 342.3h0M1918.5 342.7h0M1919.5 343.2h0M1920.6 345.7h0M1921.6 347.9h0M1922.7 350h0M1923.7 357.2h0M1924.7 365.1h0M1925.8 376.2h0M1926.8 392.1h0M1927.9 406.5h0M1928.9 417.5h0M1929.9 421.9h0M1931 424.2h0M1932 426.5h0M1933.1 423.1h0M1934.1 421h0M1935.1 419.4h0M1936.2 416.6h0M1937.2 411.7h0M1938.3 403.4h0M1939.3 396.7h0M1940.3 386.9h0M1941.4 383.5h0M1942.4 382.1h0M1943.5 380.6h0M1944.5 379.6h0M1945.5 377.5h0M1946.6 373h0M1947.6 368.9h0M1948.7 361.5h0M1949.7 353h0M1950.7 350.3h0M1951.8 348.4h0M1952.8 342.9h0M1953.9 345.2h0M1954.9 343.7h0M1955.9 347.4h0M1957 346.9h0M1958 347.3h0M1959.1 348.9h0M1960.1 357.5h0M1961.1 364.3h0M1962.2 364.4h0M1963.2 361.8h0M1964.3 357.2h0M1965.3 353.9h0M1966.3 352.3h0M1967.4 354.7h0M1968.4 358.2h0M1969.5 357.5h0M1970.5 355.4h0M1971.5 361.3h0M1972.6 365.8h0M1973.6 364.6h0M1974.7 362.2h0M1975.7 360.3h0M1976.7 359.9h0M1977.8 358.6h0M1978.8 361.9h0M1979.9 368.8h0M1980.9 377.6h0M1981.9 387.6h0M1983 393.7h0M1984 396.5h0M1985.1 395.8h0M1986.1 391.4h0M1987.1 385.1h0M1988.2 378.2h0M1989.2 378.6h0M1990.3 380.2h0M1991.3 377.6h0M1992.3 374.8h0M1993.4 373.5h0M1994.4 371.6h0M1995.5 370h0M1996.5 368.3h0M1997.5 366.4h0" fill="none" stroke="#068206" stroke-width="7.6" stroke-linecap="round"/>
<path d="M177.8 935l3.8 7.2h-7.6zM178.8 937.1l3.8 7.2h-7.6zM179.9 937.7l3.8 7.2h-7.6zM180.9 933.7l3.8 7.2h-7.6zM182 934.4l3.8 7.2h-7.6zM183 934.7l3.8 7.2h-7.6zM184 931.9l3.8 7.2h-7.6zM185.1 928.1l3.8 7.2h-7.6zM186.1 927.9l3.8 7.2h-7.6zM187.2 932.8l3.8 7.2h-7.6zM188.2 937.4l3.8 7.2h-7.6zM189.2 940.3l3.8 7.2h-7.6zM190.3 929.2l3.8 7.2h-7.6zM191.3 932.7l3.8 7.2h-7.6zM192.4 937l3.8 7.2h-7.6zM193.4 938.7l3.8 7.2h-7.6zM194.4 937.8l3.8 7.2h-7.6zM195.5 936.8l3.8 7.2h-7.6zM196.5 940.3l3.8 7.2h-7.6zM197.6 943.8l3.8 7.2h-7.6zM198.6 945.4l3.8 7.2h-7.6zM199.6 947.4l3.8 7.2h-7.6zM200.7 946.6l3.8 7.2h-7.6zM201.7 957.3l3.8 7.2h-7.6zM202.8 961.3l3.8 7.2h-7.6zM203.8 958.2l3.8 7.2h-7.6zM204.8 960.8l3.8 7.2h-7.6zM205.9 960.8l3.8 7.2h-7.6zM206.9 960.3l3.8 7.2h-7.6zM208 962.3l3.8 7.2h-7.6zM209 962.3l3.8 7.2h-7.6zM210 955.6l3.8 7.2h-7.6zM211.1 951.6l3.8 7.2h-7.6zM212.1 950.5l3.8 7.2h-7.6zM213.2 950.7l3.8 7.2h-7.6zM214.2 949l3.8 7.2h-7.6zM215.2 942.3l3.8 7.2h-7.6zM216.3 946l3.8 7.2h-7.6zM217.3 947.1l3.8 7.2h-7.6zM218.4 945.6l3.8 7.2h-7.6zM219.4 951.4l3.8 7.2h-7.6zM220.4 956.5l3.8 7.2h-7.6zM221.5 960.1l3.8 7.2h-7.6zM222.5 962.5l3.8 7.2h-7.6zM223.6 963.4l3.8 7.2h-7.6zM224.6 967.7l3.8 7.2h-7.6zM225.6 970.2l3.8 7.2h-7.6zM226.7 972.2l3.8 7.2h-7.6zM227.7 979l3.8 7.2h-7.6zM228.8 983.8l3.8 7.2h-7.6zM229.8 984l3.8 7.2h-7.6zM230.8 989.5l3.8 7.2h-7.6zM231.9 990.2l3.8 7.2h-7.6zM232.9 992.2l3.8 7.2h-7.6zM234 987.5l3.8 7.2h-7.6zM235 985l3.8 7.2h-7.6zM236 971.7l3.8 7.2h-7.6zM237.1 971.3l3.8 7.2h-7.6zM238.1 969l3.8 7.2h-7.6zM239.2 956.6l3.8 7.2h-7.6zM240.2 955.8l3.8 7.2h-7.6zM241.2 955.1l3.8 7.2h-7.6zM242.3 952.7l3.8 7.2h-7.6zM243.3 947.2l3.8 7.2h-7.6zM244.4 943.8l3.8 7.2h-7.6zM245.4 948.4l3.8 7.2h-7.6zM246.4 957.1l3.8 7.2h-7.6zM247.5 962.8l3.8 7.2h-7.6zM248.5 966.3l3.8 7.2h-7.6zM249.6 972.1l3.8 7.2h-7.6zM250.6 978.8l3.8 7.2h-7.6zM251.6 975.9l3.8 7.2h-7.6zM252.7 971l3.8 7.2h-7.6zM253.7 964.3l3.8 7.2h-7.6zM254.8 955l3.8 7.2h-7.6zM255.8 952l3.8 7.2h-7.6zM256.8 946.9l3.8 7.2h-7.6zM257.9 941.1l3.8 7.2h-7.6zM258.9 935.9l3.8 7.2h-7.6zM260 923.9l3.8 7.2h-7.6zM261 937.5l3.8 7.2h-7.6zM262 946.3l3.8 7.2h-7.6zM263.1 950.2l3.8 7.2h-7.6zM264.1 962.8l3.8 7.2h-7.6zM265.2 975.4l3.8 7.2h-7.6zM266.2 993.6l3.8 7.2h-7.6zM267.2 998.5l3.8 7.2h-7.6zM268.3 988.4l3.8 7.2h-7.6zM269.3 980.6l3.8 7.2h-7.6zM270.4 977.7l3.8 7.2h-7.6zM271.4 975.6l3.8 7.2h-7.6zM272.4 971.3l3.8 7.2h-7.6zM273.5 967.9l3.8 7.2h-7.6zM274.5 968l3.8 7.2h-7.6zM275.6 966.9l3.8 7.2h-7.6zM276.6 963.9l3.8 7.2h-7.6zM277.6 960.8l3.8 7.2h-7.6zM278.7 958.6l3.8 7.2h-7.6zM279.7 957.5l3.8 7.2h-7.6zM280.8 951.6l3.8 7.2h-7.6zM281.8 947.8l3.8 7.2h-7.6zM282.8 946.3l3.8 7.2h-7.6zM283.9 943.3l3.8 7.2h-7.6zM284.9 941.8l3.8 7.2h-7.6zM286 941.7l3.8 7.2h-7.6zM287 944l3.8 7.2h-7.6zM288 940.6l3.8 7.2h-7.6zM289.1 935.2l3.8 7.2h-7.6zM290.1 937.2l3.8 7.2h-7.6zM291.2 930.3l3.8 7.2h-7.6zM292.2 932.5l3.8 7.2h-7.6zM293.2 934.1l3.8 7.2h-7.6zM294.3 938.5l3.8 7.2h-7.6zM295.3 947.9l3.8 7.2h-7.6zM296.4 953.1l3.8 7.2h-7.6zM297.4 958.1l3.8 7.2h-7.6zM298.4 957.7l3.8 7.2h-7.6zM299.5 967.8l3.8 7.2h-7.6zM300.5 965.8l3.8 7.2h-7.6zM301.6 955.8l3.8 7.2h-7.6zM302.6 945.1l3.8 7.2h-7.6zM303.6 940.5l3.8 7.2h-7.6zM304.7 931.4l3.8 7.2h-7.6zM305.7 929.2l3.8 7.2h-7.6zM306.8 940.1l3.8 7.2h-7.6zM307.8 934.3l3.8 7.2h-7.6zM308.8 934.9l3.8 7.2h-7.6zM309.9 932.7l3.8 7.2h-7.6zM310.9 938.1l3.8 7.2h-7.6zM312 943.4l3.8 7.2h-7.6zM313 946.1l3.8 7.2h-7.6zM314 946.8l3.8 7.2h-7.6zM315.1 946.2l3.8 7.2h-7.6zM316.1 946l3.8 7.2h-7.6zM317.2 958.3l3.8 7.2h-7.6zM318.2 966.6l3.8 7.2h-7.6zM319.2 971.1l3.8 7.2h-7.6zM320.3 971.5l3.8 7.2h-7.6zM321.3 969l3.8 7.2h-7.6zM322.4 956.2l3.8 7.2h-7.6zM323.4 947.4l3.8 7.2h-7.6zM324.4 947.5l3.8 7.2h-7.6zM325.5 938.1l3.8 7.2h-7.6zM326.5 930.3l3.8 7.2h-7.6zM327.6 929.5l3.8 7.2h-7.6zM328.6 928.5l3.8 7.2h-7.6zM329.6 931.8l3.8 7.2h-7.6zM330.7 937.8l3.8 7.2h-7.6zM331.7 948.8l3.8 7.2h-7.6zM332.8 952.1l3.8 7.2h-7.6zM333.8 950.8l3.8 7.2h-7.6zM334.8 944.6l3.8 7.2h-7.6zM335.9 946.5l3.8 7.2h-7.6zM336.9 944.1l3.8 7.2h-7.6zM338 936.2l3.8 7.2h-7.6zM339 930.1l3.8 7.2h-7.6zM340 927.7l3.8 7.2h-7.6zM341.1 928.3l3.8 7.2h-7.6zM342.1 935.9l3.8 7.2h-7.6zM343.2 950.4l3.8 7.2h-7.6zM344.2 959.6l3.8 7.2h-7.6zM345.2 961.4l3.8 7.2h-7.6zM346.3 962.2l3.8 7.2h-7.6zM347.3 961.5l3.8 7.2h-7.6zM348.4 959.5l3.8 7.2h-7.6zM349.4 951.7l3.8 7.2h-7.6zM350.4 941.5l3.8 7.2h-7.6zM351.5 939.8l3.8 7.2h-7.6zM352.5 944.1l3.8 7.2h-7.6zM353.6 947.5l3.8 7.2h-7.6zM354.6 949.5l3.8 7.2h-7.6zM355.6 946.3l3.8 7.2h-7.6zM356.7 939.9l3.8 7.2h-7.6zM357.7 938.9l3.8 7.2h-7.6zM358.8 941.3l3.8 7.2h-7.6zM359.8 950.8l3.8 7.2h-7.6zM360.8 949.7l3.8 7.2h-7.6zM361.9 950.1l3.8 7.2h-7.6zM362.9 950.8l3.8 7.2h-7.6zM364 944.6l3.8 7.2h-7.6zM365 940.4l3.8 7.2h-7.6zM366 943.2l3.8 7.2h-7.6zM367.1 948.3l3.8 7.2h-7.6zM368.1 954.5l3.8 7.2h-7.6zM369.2 950.5l3.8 7.2h-7.6zM370.2 943.4l3.8 7.2h-7.6zM371.2 946.6l3.8 7.2h-7.6zM372.3 945.8l3.8 7.2h-7.6zM373.3 939.6l3.8 7.2h-7.6zM374.4 937.8l3.8 7.2h-7.6zM375.4 934.9l3.8 7.2h-7.6zM376.4 938.4l3.8 7.2h-7.6zM377.5 936.6l3.8 7.2h-7.6zM378.5 931.9l3.8 7.2h-7.6zM379.6 933l3.8 7.2h-7.6zM380.6 935.5l3.8 7.2h-7.6zM381.6 934l3.8 7.2h-7.6zM382.7 936l3.8 7.2h-7.6zM383.7 935.3l3.8 7.2h-7.6zM384.8 929.8l3.8 7.2h-7.6zM385.8 932.7l3.8 7.2h-7.6zM386.8 939.4l3.8 7.2h-7.6zM387.9 935.1l3.8 7.2h-7.6zM388.9 932.1l3.8 7.2h-7.6zM390 934.2l3.8 7.2h-7.6zM391 935.6l3.8 7.2h-7.6zM392 942.1l3.8 7.2h-7.6zM393.1 944.9l3.8 7.2h-7.6zM394.1 948.3l3.8 7.2h-7.6zM395.2 950.1l3.8 7.2h-7.6zM396.2 950.9l3.8 7.2h-7.6zM397.2 953.4l3.8 7.2h-7.6zM398.3 951.6l3.8 7.2h-7.6zM399.3 947.9l3.8 7.2h-7.6zM400.4 947.5l3.8 7.2h-7.6zM401.4 948.4l3.8 7.2h-7.6zM402.4 948.9l3.8 7.2h-7.6zM403.5 958.2l3.8 7.2h-7.6zM404.5 949.1l3.8 7.2h-7.6zM405.6 945.6l3.8 7.2h-7.6zM406.6 939.1l3.8 7.2h-7.6zM407.6 934.6l3.8 7.2h-7.6zM408.7 935.7l3.8 7.2h-7.6zM409.7 933.5l3.8 7.2h-7.6zM410.8 936.9l3.8 7.2h-7.6zM411.8 942.1l3.8 7.2h-7.6zM412.8 943.7l3.8 7.2h-7.6zM413.9 950.3l3.8 7.2h-7.6zM414.9 954.8l3.8 7.2h-7.6zM416 955.7l3.8 7.2h-7.6zM417 959.8l3.8 7.2h-7.6zM418 966.1l3.8 7.2h-7.6zM419.1 969.4l3.8 7.2h-7.6zM420.1 969.3l3.8 7.2h-7.6zM421.2 963.7l3.8 7.2h-7.6zM422.2 964.4l3.8 7.2h-7.6zM423.2 962.1l3.8 7.2h-7.6zM424.3 955.7l3.8 7.2h-7.6zM425.3 953.6l3.8 7.2h-7.6zM426.4 952.2l3.8 7.2h-7.6zM427.4 941.2l3.8 7.2h-7.6zM428.4 932.8l3.8 7.2h-7.6zM429.5 929l3.8 7.2h-7.6zM430.5 934.6l3.8 7.2h-7.6zM431.6 941l3.8 7.2h-7.6zM432.6 946.7l3.8 7.2h-7.6zM433.6 953.1l3.8 7.2h-7.6zM434.7 955.6l3.8 7.2h-7.6zM435.7 951.7l3.8 7.2h-7.6zM436.8 943.8l3.8 7.2h-7.6zM437.8 937.6l3.8 7.2h-7.6zM438.8 937.9l3.8 7.2h-7.6zM439.9 936.1l3.8 7.2h-7.6zM440.9 934.2l3.8 7.2h-7.6zM442 932l3.8 7.2h-7.6zM443 931.9l3.8 7.2h-7.6zM444 935.8l3.8 7.2h-7.6zM445.1 935l3.8 7.2h-7.6zM446.1 932.8l3.8 7.2h-7.6zM447.2 933.3l3.8 7.2h-7.6zM448.2 937.9l3.8 7.2h-7.6zM449.2 931.5l3.8 7.2h-7.6zM450.3 930.9l3.8 7.2h-7.6zM451.3 942.5l3.8 7.2h-7.6zM452.4 948l3.8 7.2h-7.6zM453.4 950.8l3.8 7.2h-7.6zM454.4 953.2l3.8 7.2h-7.6zM455.5 949.4l3.8 7.2h-7.6zM456.5 946.5l3.8 7.2h-7.6zM457.6 947.2l3.8 7.2h-7.6zM458.6 943.8l3.8 7.2h-7.6zM459.6 937.6l3.8 7.2h-7.6zM460.7 940.5l3.8 7.2h-7.6zM461.7 938.7l3.8 7.2h-7.6zM462.8 942.6l3.8 7.2h-7.6zM463.8 949.9l3.8 7.2h-7.6zM464.8 951.5l3.8 7.2h-7.6zM465.9 956.9l3.8 7.2h-7.6zM466.9 957.1l3.8 7.2h-7.6zM468 957.1l3.8 7.2h-7.6zM469 959.8l3.8 7.2h-7.6zM470 956.3l3.8 7.2h-7.6zM471.1 950l3.8 7.2h-7.6zM472.1 948.8l3.8 7.2h-7.6zM473.2 949.6l3.8 7.2h-7.6zM474.2 947.4l3.8 7.2h-7.6zM475.2 944.5l3.8 7.2h-7.6zM476.3 947l3.8 7.2h-7.6zM477.3 949.3l3.8 7.2h-7.6zM478.4 948.5l3.8 7.2h-7.6zM479.4 950.9l3.8 7.2h-7.6zM480.4 945.5l3.8 7.2h-7.6zM481.5 947.1l3.8 7.2h-7.6zM482.5 956.1l3.8 7.2h-7.6zM483.6 955.6l3.8 7.2h-7.6zM484.6 956.3l3.8 7.2h-7.6zM485.6 961l3.8 7.2h-7.6zM486.7 964.1l3.8 7.2h-7.6zM487.7 967.5l3.8 7.2h-7.6zM488.8 966.2l3.8 7.2h-7.6zM489.8 969.8l3.8 7.2h-7.6zM490.8 974.7l3.8 7.2h-7.6zM491.9 963.3l3.8 7.2h-7.6zM492.9 954.4l3.8 7.2h-7.6zM494 954.9l3.8 7.2h-7.6zM495 953.2l3.8 7.2h-7.6zM496 950.2l3.8 7.2h-7.6zM497.1 944.6l3.8 7.2h-7.6zM498.1 940.2l3.8 7.2h-7.6zM499.2 940.7l3.8 7.2h-7.6zM500.2 938l3.8 7.2h-7.6zM501.2 932.7l3.8 7.2h-7.6zM502.3 934.3l3.8 7.2h-7.6zM503.3 934.2l3.8 7.2h-7.6zM504.4 935.2l3.8 7.2h-7.6zM505.4 931.4l3.8 7.2h-7.6zM506.4 931.9l3.8 7.2h-7.6zM507.5 933.1l3.8 7.2h-7.6zM508.5 935.1l3.8 7.2h-7.6zM509.6 935.7l3.8 7.2h-7.6zM510.6 937.1l3.8 7.2h-7.6zM511.6 941l3.8 7.2h-7.6zM512.7 945.2l3.8 7.2h-7.6zM513.7 948.7l3.8 7.2h-7.6zM514.8 953l3.8 7.2h-7.6zM515.8 953.8l3.8 7.2h-7.6zM516.8 957l3.8 7.2h-7.6zM517.9 961.8l3.8 7.2h-7.6zM518.9 961.1l3.8 7.2h-7.6zM520 961.8l3.8 7.2h-7.6zM521 958.9l3.8 7.2h-7.6zM522 960.8l3.8 7.2h-7.6zM523.1 965.7l3.8 7.2h-7.6zM524.1 963l3.8 7.2h-7.6zM525.2 960.7l3.8 7.2h-7.6zM526.2 950.1l3.8 7.2h-7.6zM527.2 946.9l3.8 7.2h-7.6zM528.3 949.8l3.8 7.2h-7.6zM529.3 949.9l3.8 7.2h-7.6zM530.4 956.5l3.8 7.2h-7.6zM531.4 952.8l3.8 7.2h-7.6zM532.4 945.2l3.8 7.2h-7.6zM533.5 943.9l3.8 7.2h-7.6zM534.5 943.4l3.8 7.2h-7.6zM535.6 944.4l3.8 7.2h-7.6zM536.6 944.2l3.8 7.2h-7.6zM537.6 946.7l3.8 7.2h-7.6zM538.7 946.9l3.8 7.2h-7.6zM539.7 938.7l3.8 7.2h-7.6zM540.8 933.6l3.8 7.2h-7.6zM541.8 937.2l3.8 7.2h-7.6zM542.8 939.2l3.8 7.2h-7.6zM543.9 942.7l3.8 7.2h-7.6zM544.9 941.4l3.8 7.2h-7.6zM546 943.7l3.8 7.2h-7.6zM547 942.9l3.8 7.2h-7.6zM548 940.4l3.8 7.2h-7.6zM549.1 941.1l3.8 7.2h-7.6zM550.1 949.4l3.8 7.2h-7.6zM551.2 957.3l3.8 7.2h-7.6zM552.2 952.1l3.8 7.2h-7.6zM553.2 946.6l3.8 7.2h-7.6zM554.3 946.8l3.8 7.2h-7.6zM555.3 942.5l3.8 7.2h-7.6zM556.4 937.4l3.8 7.2h-7.6zM557.4 943.1l3.8 7.2h-7.6zM558.4 947l3.8 7.2h-7.6zM559.5 939.2l3.8 7.2h-7.6zM560.5 934.9l3.8 7.2h-7.6zM561.6 941.3l3.8 7.2h-7.6zM562.6 946.8l3.8 7.2h-7.6zM563.6 944.4l3.8 7.2h-7.6zM564.7 946.4l3.8 7.2h-7.6zM565.7 951l3.8 7.2h-7.6zM566.8 950.1l3.8 7.2h-7.6zM567.8 947.1l3.8 7.2h-7.6zM568.8 945.6l3.8 7.2h-7.6zM569.9 947.2l3.8 7.2h-7.6zM570.9 949.4l3.8 7.2h-7.6zM572 951.9l3.8 7.2h-7.6zM573 952.3l3.8 7.2h-7.6zM574 957.8l3.8 7.2h-7.6zM575.1 957.6l3.8 7.2h-7.6zM576.1 957.4l3.8 7.2h-7.6zM577.2 959l3.8 7.2h-7.6zM578.2 951.9l3.8 7.2h-7.6zM579.2 955l3.8 7.2h-7.6zM580.3 961.7l3.8 7.2h-7.6zM581.3 968l3.8 7.2h-7.6zM582.4 965.1l3.8 7.2h-7.6zM583.4 965.8l3.8 7.2h-7.6zM584.4 959.2l3.8 7.2h-7.6zM585.5 956l3.8 7.2h-7.6zM586.5 952l3.8 7.2h-7.6zM587.6 953.3l3.8 7.2h-7.6zM588.6 948.2l3.8 7.2h-7.6zM589.6 944.8l3.8 7.2h-7.6zM590.7 939.1l3.8 7.2h-7.6zM591.7 935.3l3.8 7.2h-7.6zM592.8 938.2l3.8 7.2h-7.6zM593.8 945.1l3.8 7.2h-7.6zM594.8 944.2l3.8 7.2h-7.6zM595.9 944.9l3.8 7.2h-7.6zM596.9 954.9l3.8 7.2h-7.6zM598 961.1l3.8 7.2h-7.6zM599 951.6l3.8 7.2h-7.6zM600 948l3.8 7.2h-7.6zM601.1 945.7l3.8 7.2h-7.6zM602.1 941.1l3.8 7.2h-7.6zM603.2 937.9l3.8 7.2h-7.6zM604.2 942.8l3.8 7.2h-7.6zM605.2 944.7l3.8 7.2h-7.6zM606.3 947.5l3.8 7.2h-7.6zM607.3 952.7l3.8 7.2h-7.6zM608.4 952.7l3.8 7.2h-7.6zM609.4 952.6l3.8 7.2h-7.6zM610.4 954l3.8 7.2h-7.6zM611.5 960.1l3.8 7.2h-7.6zM612.5 972.6l3.8 7.2h-7.6zM613.6 973.5l3.8 7.2h-7.6zM614.6 973.1l3.8 7.2h-7.6zM615.6 965.6l3.8 7.2h-7.6zM616.7 955.1l3.8 7.2h-7.6zM617.7 950.7l3.8 7.2h-7.6zM618.8 940.4l3.8 7.2h-7.6zM619.8 930.6l3.8 7.2h-7.6zM620.8 933.3l3.8 7.2h-7.6zM621.9 932.7l3.8 7.2h-7.6zM622.9 934.7l3.8 7.2h-7.6zM624 939.1l3.8 7.2h-7.6zM625 941.8l3.8 7.2h-7.6zM626 935.3l3.8 7.2h-7.6zM627.1 932.9l3.8 7.2h-7.6zM628.1 934.4l3.8 7.2h-7.6zM629.2 936.7l3.8 7.2h-7.6zM630.2 937.6l3.8 7.2h-7.6zM631.2 938.7l3.8 7.2h-7.6zM632.3 943l3.8 7.2h-7.6zM633.3 948.2l3.8 7.2h-7.6zM634.4 948.9l3.8 7.2h-7.6zM635.4 948.8l3.8 7.2h-7.6zM636.4 949l3.8 7.2h-7.6zM637.5 951.1l3.8 7.2h-7.6zM638.5 949.1l3.8 7.2h-7.6zM639.6 954.9l3.8 7.2h-7.6zM640.6 951.9l3.8 7.2h-7.6zM641.6 948.6l3.8 7.2h-7.6zM642.7 953.2l3.8 7.2h-7.6zM643.7 962.8l3.8 7.2h-7.6zM644.8 966.2l3.8 7.2h-7.6zM645.8 964l3.8 7.2h-7.6zM646.8 967.3l3.8 7.2h-7.6zM647.9 961.2l3.8 7.2h-7.6zM648.9 955.2l3.8 7.2h-7.6zM650 951.9l3.8 7.2h-7.6zM651 945.4l3.8 7.2h-7.6zM652 929.3l3.8 7.2h-7.6zM653.1 922.9l3.8 7.2h-7.6zM654.1 931.7l3.8 7.2h-7.6zM655.2 936.1l3.8 7.2h-7.6zM656.2 937.2l3.8 7.2h-7.6zM657.2 934.7l3.8 7.2h-7.6zM658.3 938l3.8 7.2h-7.6zM659.3 943.9l3.8 7.2h-7.6zM660.4 941.5l3.8 7.2h-7.6zM661.4 943.8l3.8 7.2h-7.6zM662.4 943.1l3.8 7.2h-7.6zM663.5 942.5l3.8 7.2h-7.6zM664.5 941.6l3.8 7.2h-7.6zM665.6 944.4l3.8 7.2h-7.6zM666.6 935.1l3.8 7.2h-7.6zM667.6 932.3l3.8 7.2h-7.6zM668.7 935.9l3.8 7.2h-7.6zM669.7 942.8l3.8 7.2h-7.6zM670.8 941.3l3.8 7.2h-7.6zM671.8 942.2l3.8 7.2h-7.6zM672.8 941.7l3.8 7.2h-7.6zM673.9 943.8l3.8 7.2h-7.6zM674.9 948.3l3.8 7.2h-7.6zM676 952.8l3.8 7.2h-7.6zM677 946.4l3.8 7.2h-7.6zM678 940.4l3.8 7.2h-7.6zM679.1 946.4l3.8 7.2h-7.6zM680.1 943.3l3.8 7.2h-7.6zM681.2 937.2l3.8 7.2h-7.6zM682.2 937.5l3.8 7.2h-7.6zM683.2 939.3l3.8 7.2h-7.6zM684.3 946.9l3.8 7.2h-7.6zM685.3 937.8l3.8 7.2h-7.6zM686.4 929.8l3.8 7.2h-7.6zM687.4 934.7l3.8 7.2h-7.6zM688.4 935.7l3.8 7.2h-7.6zM689.5 940.8l3.8 7.2h-7.6zM690.5 935.3l3.8 7.2h-7.6zM691.6 926.6l3.8 7.2h-7.6zM692.6 929.3l3.8 7.2h-7.6zM693.6 930.3l3.8 7.2h-7.6zM694.7 932l3.8 7.2h-7.6zM695.7 932.1l3.8 7.2h-7.6zM696.8 931l3.8 7.2h-7.6zM697.8 937.7l3.8 7.2h-7.6zM698.8 937.9l3.8 7.2h-7.6zM699.9 940.1l3.8 7.2h-7.6zM700.9 946.3l3.8 7.2h-7.6zM702 947.8l3.8 7.2h-7.6zM703 942.4l3.8 7.2h-7.6zM704 941.9l3.8 7.2h-7.6zM705.1 933.7l3.8 7.2h-7.6zM706.1 937l3.8 7.2h-7.6zM707.2 938.9l3.8 7.2h-7.6zM708.2 940.7l3.8 7.2h-7.6zM709.2 941.4l3.8 7.2h-7.6zM710.3 943.9l3.8 7.2h-7.6zM711.3 946.2l3.8 7.2h-7.6zM712.4 946.6l3.8 7.2h-7.6zM713.4 949.3l3.8 7.2h-7.6zM714.4 951.1l3.8 7.2h-7.6zM715.5 946.3l3.8 7.2h-7.6zM716.5 947.8l3.8 7.2h-7.6zM717.6 948.9l3.8 7.2h-7.6zM718.6 953.2l3.8 7.2h-7.6zM719.6 960.4l3.8 7.2h-7.6zM720.7 960l3.8 7.2h-7.6zM721.7 959.8l3.8 7.2h-7.6zM722.8 960l3.8 7.2h-7.6zM723.8 959.9l3.8 7.2h-7.6zM724.8 959.6l3.8 7.2h-7.6zM725.9 959.4l3.8 7.2h-7.6zM726.9 960.7l3.8 7.2h-7.6zM728 963.7l3.8 7.2h-7.6zM729 967.5l3.8 7.2h-7.6zM730 976l3.8 7.2h-7.6zM731.1 993l3.8 7.2h-7.6zM732.1 1006.5l3.8 7.2h-7.6zM733.2 1019.1l3.8 7.2h-7.6zM734.2 1031.3l3.8 7.2h-7.6zM735.2 1032.1l3.8 7.2h-7.6zM736.3 1033.2l3.8 7.2h-7.6zM737.3 1034.6l3.8 7.2h-7.6zM738.4 1035.7l3.8 7.2h-7.6zM739.4 1037.1l3.8 7.2h-7.6zM740.4 1039.3l3.8 7.2h-7.6zM741.5 1041.3l3.8 7.2h-7.6zM742.5 1043.3l3.8 7.2h-7.6zM743.6 1045.5l3.8 7.2h-7.6zM744.6 1054.1l3.8 7.2h-7.6zM745.6 1061.2l3.8 7.2h-7.6zM746.7 1067.9l3.8 7.2h-7.6zM747.7 1075.4l3.8 7.2h-7.6zM748.8 1085.5l3.8 7.2h-7.6zM749.8 1097.5l3.8 7.2h-7.6zM750.8 1110l3.8 7.2h-7.6zM751.9 1120.5l3.8 7.2h-7.6zM752.9 1126.6l3.8 7.2h-7.6zM754 1136.2l3.8 7.2h-7.6zM755 1144.8l3.8 7.2h-7.6zM756 1148.9l3.8 7.2h-7.6zM757.1 1143.5l3.8 7.2h-7.6zM758.1 1135.4l3.8 7.2h-7.6zM759.2 1116.5l3.8 7.2h-7.6zM760.2 1092.4l3.8 7.2h-7.6zM761.2 1067l3.8 7.2h-7.6zM762.3 1048.2l3.8 7.2h-7.6zM763.3 1041.5l3.8 7.2h-7.6zM764.4 1035.4l3.8 7.2h-7.6zM765.4 1029.1l3.8 7.2h-7.6zM766.4 1022.5l3.8 7.2h-7.6zM767.5 1015.9l3.8 7.2h-7.6zM768.5 1008.6l3.8 7.2h-7.6zM769.6 998.1l3.8 7.2h-7.6zM770.6 992.5l3.8 7.2h-7.6zM771.6 987l3.8 7.2h-7.6zM772.7 985.1l3.8 7.2h-7.6zM773.7 985.5l3.8 7.2h-7.6zM774.8 985.4l3.8 7.2h-7.6zM775.8 983.3l3.8 7.2h-7.6zM776.8 981.3l3.8 7.2h-7.6zM777.9 979.8l3.8 7.2h-7.6zM778.9 977.9l3.8 7.2h-7.6zM780 980.2l3.8 7.2h-7.6zM781 988.7l3.8 7.2h-7.6zM782 993.4l3.8 7.2h-7.6zM783.1 996.4l3.8 7.2h-7.6zM784.1 997.4l3.8 7.2h-7.6zM785.2 999.3l3.8 7.2h-7.6zM786.2 1000.5l3.8 7.2h-7.6zM787.2 1009.3l3.8 7.2h-7.6zM788.3 1016.7l3.8 7.2h-7.6zM789.3 1018.9l3.8 7.2h-7.6zM790.4 1018.4l3.8 7.2h-7.6zM791.4 1019.5l3.8 7.2h-7.6zM792.4 1016.5l3.8 7.2h-7.6zM793.5 1011l3.8 7.2h-7.6zM794.5 1005.4l3.8 7.2h-7.6zM795.6 999.9l3.8 7.2h-7.6zM796.6 994.5l3.8 7.2h-7.6zM797.6 989.7l3.8 7.2h-7.6zM798.7 984.8l3.8 7.2h-7.6zM799.7 979l3.8 7.2h-7.6zM800.8 972.8l3.8 7.2h-7.6zM801.8 966.4l3.8 7.2h-7.6zM802.8 960.7l3.8 7.2h-7.6zM803.9 956.7l3.8 7.2h-7.6zM804.9 956.1l3.8 7.2h-7.6zM806 955.4l3.8 7.2h-7.6zM807 954.4l3.8 7.2h-7.6zM808 953.8l3.8 7.2h-7.6zM809.1 953.5l3.8 7.2h-7.6zM810.1 952.9l3.8 7.2h-7.6zM811.2 950.9l3.8 7.2h-7.6zM812.2 949.5l3.8 7.2h-7.6zM813.2 948.2l3.8 7.2h-7.6zM814.3 945.5l3.8 7.2h-7.6zM815.3 940.1l3.8 7.2h-7.6zM816.4 938.6l3.8 7.2h-7.6zM817.4 937.8l3.8 7.2h-7.6zM818.4 935.8l3.8 7.2h-7.6zM819.5 933.8l3.8 7.2h-7.6zM820.5 935.1l3.8 7.2h-7.6zM821.6 932.1l3.8 7.2h-7.6zM822.6 929.5l3.8 7.2h-7.6zM823.6 925l3.8 7.2h-7.6zM824.7 926.6l3.8 7.2h-7.6zM825.7 929.1l3.8 7.2h-7.6zM826.8 930.3l3.8 7.2h-7.6zM827.8 935.4l3.8 7.2h-7.6zM828.8 938.6l3.8 7.2h-7.6zM829.9 934.3l3.8 7.2h-7.6zM830.9 935l3.8 7.2h-7.6zM832 940.2l3.8 7.2h-7.6zM833 940.1l3.8 7.2h-7.6zM834 938l3.8 7.2h-7.6zM835.1 936.6l3.8 7.2h-7.6zM836.1 939.1l3.8 7.2h-7.6zM837.2 939.9l3.8 7.2h-7.6zM838.2 940.2l3.8 7.2h-7.6zM839.2 936.4l3.8 7.2h-7.6zM840.3 934.6l3.8 7.2h-7.6zM841.3 933.1l3.8 7.2h-7.6zM842.4 932.4l3.8 7.2h-7.6zM843.4 933.1l3.8 7.2h-7.6zM844.4 930.8l3.8 7.2h-7.6zM845.5 926.5l3.8 7.2h-7.6zM846.5 926.2l3.8 7.2h-7.6zM847.6 928.9l3.8 7.2h-7.6zM848.6 932.1l3.8 7.2h-7.6zM849.6 932.1l3.8 7.2h-7.6zM850.7 932l3.8 7.2h-7.6zM851.7 934.9l3.8 7.2h-7.6zM852.8 938.7l3.8 7.2h-7.6zM853.8 943l3.8 7.2h-7.6zM854.8 946.2l3.8 7.2h-7.6zM855.9 947.5l3.8 7.2h-7.6zM856.9 947.1l3.8 7.2h-7.6zM858 947.6l3.8 7.2h-7.6zM859 946.2l3.8 7.2h-7.6zM860 942.9l3.8 7.2h-7.6zM861.1 939.8l3.8 7.2h-7.6zM862.1 938.8l3.8 7.2h-7.6zM863.2 937.6l3.8 7.2h-7.6zM864.2 934.9l3.8 7.2h-7.6zM865.2 931.4l3.8 7.2h-7.6zM866.3 932.2l3.8 7.2h-7.6zM867.3 936.5l3.8 7.2h-7.6zM868.4 938.2l3.8 7.2h-7.6zM869.4 941.1l3.8 7.2h-7.6zM870.4 940.6l3.8 7.2h-7.6zM871.5 939.9l3.8 7.2h-7.6zM872.5 938.7l3.8 7.2h-7.6zM873.6 942l3.8 7.2h-7.6zM874.6 938.4l3.8 7.2h-7.6zM875.6 935.6l3.8 7.2h-7.6zM876.7 933.5l3.8 7.2h-7.6zM877.7 932.8l3.8 7.2h-7.6zM878.8 933l3.8 7.2h-7.6zM879.8 933.7l3.8 7.2h-7.6zM880.8 935.1l3.8 7.2h-7.6zM881.9 937l3.8 7.2h-7.6zM882.9 935.9l3.8 7.2h-7.6zM884 940.6l3.8 7.2h-7.6zM885 942.4l3.8 7.2h-7.6zM886 939.5l3.8 7.2h-7.6zM887.1 940.9l3.8 7.2h-7.6zM888.1 939.9l3.8 7.2h-7.6zM889.2 939.7l3.8 7.2h-7.6zM890.2 943.6l3.8 7.2h-7.6zM891.2 947.3l3.8 7.2h-7.6zM892.3 947.4l3.8 7.2h-7.6zM893.3 944.5l3.8 7.2h-7.6zM894.4 942.5l3.8 7.2h-7.6zM895.4 942.2l3.8 7.2h-7.6zM896.4 941.4l3.8 7.2h-7.6zM897.5 939.7l3.8 7.2h-7.6zM898.5 937.5l3.8 7.2h-7.6zM899.6 940l3.8 7.2h-7.6zM900.6 942.3l3.8 7.2h-7.6zM901.6 944.5l3.8 7.2h-7.6zM902.7 942.4l3.8 7.2h-7.6zM903.7 939.9l3.8 7.2h-7.6zM904.8 939.3l3.8 7.2h-7.6zM905.8 938.3l3.8 7.2h-7.6zM906.8 935.3l3.8 7.2h-7.6zM907.9 932.6l3.8 7.2h-7.6zM908.9 933.1l3.8 7.2h-7.6zM910 933.6l3.8 7.2h-7.6zM911 933l3.8 7.2h-7.6zM912 930.7l3.8 7.2h-7.6zM913.1 929.2l3.8 7.2h-7.6zM914.1 929.4l3.8 7.2h-7.6zM915.2 929.8l3.8 7.2h-7.6zM916.2 929.5l3.8 7.2h-7.6zM917.2 927.8l3.8 7.2h-7.6zM918.3 926.7l3.8 7.2h-7.6zM919.3 924.6l3.8 7.2h-7.6zM920.4 926.1l3.8 7.2h-7.6zM921.4 926.2l3.8 7.2h-7.6zM922.4 925.2l3.8 7.2h-7.6zM923.5 928l3.8 7.2h-7.6zM924.5 930.1l3.8 7.2h-7.6zM925.6 930.8l3.8 7.2h-7.6zM926.6 934.1l3.8 7.2h-7.6zM927.6 932.7l3.8 7.2h-7.6zM928.7 931.6l3.8 7.2h-7.6zM929.7 929.7l3.8 7.2h-7.6zM930.8 929.8l3.8 7.2h-7.6zM931.8 929.4l3.8 7.2h-7.6zM932.8 927.1l3.8 7.2h-7.6zM933.9 928.8l3.8 7.2h-7.6zM934.9 932l3.8 7.2h-7.6zM936 936.4l3.8 7.2h-7.6zM937 940l3.8 7.2h-7.6zM938 943.6l3.8 7.2h-7.6zM939.1 945.2l3.8 7.2h-7.6zM940.1 943.9l3.8 7.2h-7.6zM941.2 942.3l3.8 7.2h-7.6zM942.2 943.4l3.8 7.2h-7.6zM943.2 945.9l3.8 7.2h-7.6zM944.3 947.9l3.8 7.2h-7.6zM945.3 944l3.8 7.2h-7.6zM946.4 938.1l3.8 7.2h-7.6zM947.4 935l3.8 7.2h-7.6zM948.4 937.1l3.8 7.2h-7.6zM949.5 935.8l3.8 7.2h-7.6zM950.5 933.5l3.8 7.2h-7.6zM951.6 934.6l3.8 7.2h-7.6zM952.6 932.8l3.8 7.2h-7.6zM953.6 929.2l3.8 7.2h-7.6zM954.7 926.6l3.8 7.2h-7.6zM955.7 929.4l3.8 7.2h-7.6zM956.8 928.1l3.8 7.2h-7.6zM957.8 927.4l3.8 7.2h-7.6zM958.8 928.1l3.8 7.2h-7.6zM959.9 931.9l3.8 7.2h-7.6zM960.9 937l3.8 7.2h-7.6zM962 939.7l3.8 7.2h-7.6zM963 943.4l3.8 7.2h-7.6zM964 944l3.8 7.2h-7.6zM965.1 944.3l3.8 7.2h-7.6zM966.1 945.2l3.8 7.2h-7.6zM967.2 942.1l3.8 7.2h-7.6zM968.2 938.2l3.8 7.2h-7.6zM969.2 938.1l3.8 7.2h-7.6zM970.3 938.5l3.8 7.2h-7.6zM971.3 935.9l3.8 7.2h-7.6zM972.4 934.4l3.8 7.2h-7.6zM973.4 934.2l3.8 7.2h-7.6zM974.4 936.3l3.8 7.2h-7.6zM975.5 932.8l3.8 7.2h-7.6zM976.5 931.8l3.8 7.2h-7.6zM977.6 933.8l3.8 7.2h-7.6zM978.6 937.8l3.8 7.2h-7.6zM979.6 938.5l3.8 7.2h-7.6zM980.7 936.5l3.8 7.2h-7.6zM981.7 936.8l3.8 7.2h-7.6zM982.8 935.6l3.8 7.2h-7.6zM983.8 938.4l3.8 7.2h-7.6zM984.8 943.2l3.8 7.2h-7.6zM985.9 941.4l3.8 7.2h-7.6zM986.9 937.7l3.8 7.2h-7.6zM988 934.9l3.8 7.2h-7.6zM989 934.2l3.8 7.2h-7.6zM990 931.3l3.8 7.2h-7.6zM991.1 929.8l3.8 7.2h-7.6zM992.1 933.6l3.8 7.2h-7.6zM993.2 934.2l3.8 7.2h-7.6zM994.2 932.9l3.8 7.2h-7.6zM995.2 931.5l3.8 7.2h-7.6zM996.3 931.2l3.8 7.2h-7.6zM997.3 936.1l3.8 7.2h-7.6zM998.4 936.7l3.8 7.2h-7.6zM999.4 940.4l3.8 7.2h-7.6zM1000.4 943.2l3.8 7.2h-7.6zM1001.5 944.8l3.8 7.2h-7.6zM1002.5 945.5l3.8 7.2h-7.6zM1003.6 942l3.8 7.2h-7.6zM1004.6 938.7l3.8 7.2h-7.6zM1005.6 937.3l3.8 7.2h-7.6zM1006.7 938.3l3.8 7.2h-7.6zM1007.7 936.4l3.8 7.2h-7.6zM1008.8 935.1l3.8 7.2h-7.6zM1009.8 937.2l3.8 7.2h-7.6zM1010.8 938.7l3.8 7.2h-7.6zM1011.9 936.5l3.8 7.2h-7.6zM1012.9 934.9l3.8 7.2h-7.6zM1014 936.1l3.8 7.2h-7.6zM1015 934.8l3.8 7.2h-7.6zM1016 935.9l3.8 7.2h-7.6zM1017.1 940.7l3.8 7.2h-7.6zM1018.1 941.8l3.8 7.2h-7.6zM1019.2 942.4l3.8 7.2h-7.6zM1020.2 940l3.8 7.2h-7.6zM1021.2 941.9l3.8 7.2h-7.6zM1022.3 944l3.8 7.2h-7.6zM1023.3 948.1l3.8 7.2h-7.6zM1024.4 946.3l3.8 7.2h-7.6zM1025.4 946.1l3.8 7.2h-7.6zM1026.4 949l3.8 7.2h-7.6zM1027.5 950.2l3.8 7.2h-7.6zM1028.5 951.4l3.8 7.2h-7.6zM1029.6 954.7l3.8 7.2h-7.6zM1030.6 956.3l3.8 7.2h-7.6zM1031.6 954l3.8 7.2h-7.6zM1032.7 950.7l3.8 7.2h-7.6zM1033.7 946.7l3.8 7.2h-7.6zM1034.8 944.5l3.8 7.2h-7.6zM1035.8 943.8l3.8 7.2h-7.6zM1036.8 941.4l3.8 7.2h-7.6zM1037.9 946.4l3.8 7.2h-7.6zM1038.9 947.4l3.8 7.2h-7.6zM1040 949.3l3.8 7.2h-7.6zM1041 953.5l3.8 7.2h-7.6zM1042 956.5l3.8 7.2h-7.6zM1043.1 960.4l3.8 7.2h-7.6zM1044.1 959.8l3.8 7.2h-7.6zM1045.2 957.4l3.8 7.2h-7.6zM1046.2 949.6l3.8 7.2h-7.6zM1047.2 941.5l3.8 7.2h-7.6zM1048.3 938l3.8 7.2h-7.6zM1049.3 936.1l3.8 7.2h-7.6zM1050.4 936.1l3.8 7.2h-7.6zM1051.4 933l3.8 7.2h-7.6zM1052.4 926.6l3.8 7.2h-7.6zM1053.5 929.2l3.8 7.2h-7.6zM1054.5 934.6l3.8 7.2h-7.6zM1055.6 938.9l3.8 7.2h-7.6zM1056.6 941.6l3.8 7.2h-7.6zM1057.6 946l3.8 7.2h-7.6zM1058.7 943l3.8 7.2h-7.6zM1059.7 939.3l3.8 7.2h-7.6zM1060.8 938.7l3.8 7.2h-7.6zM1061.8 934.9l3.8 7.2h-7.6zM1062.8 931.5l3.8 7.2h-7.6zM1063.9 931.2l3.8 7.2h-7.6zM1064.9 938.6l3.8 7.2h-7.6zM1066 946.2l3.8 7.2h-7.6zM1067 950.5l3.8 7.2h-7.6zM1068 952.7l3.8 7.2h-7.6zM1069.1 953l3.8 7.2h-7.6zM1070.1 950.4l3.8 7.2h-7.6zM1071.2 946.3l3.8 7.2h-7.6zM1072.2 941.7l3.8 7.2h-7.6zM1073.2 936.4l3.8 7.2h-7.6zM1074.3 934.1l3.8 7.2h-7.6zM1075.3 938.6l3.8 7.2h-7.6zM1076.4 945l3.8 7.2h-7.6zM1077.4 949.9l3.8 7.2h-7.6zM1078.4 951.7l3.8 7.2h-7.6zM1079.5 956.9l3.8 7.2h-7.6zM1080.5 960.8l3.8 7.2h-7.6zM1081.6 962.8l3.8 7.2h-7.6zM1082.6 962.5l3.8 7.2h-7.6zM1083.6 961.2l3.8 7.2h-7.6zM1084.7 957.7l3.8 7.2h-7.6zM1085.7 957.8l3.8 7.2h-7.6zM1086.8 954.5l3.8 7.2h-7.6zM1087.8 951.8l3.8 7.2h-7.6zM1088.8 948.6l3.8 7.2h-7.6zM1089.9 945.9l3.8 7.2h-7.6zM1090.9 946.8l3.8 7.2h-7.6zM1092 945.9l3.8 7.2h-7.6zM1093 944.2l3.8 7.2h-7.6zM1094 943.4l3.8 7.2h-7.6zM1095.1 942.9l3.8 7.2h-7.6zM1096.1 941.2l3.8 7.2h-7.6zM1097.2 939.7l3.8 7.2h-7.6zM1098.2 939.3l3.8 7.2h-7.6zM1099.2 939.2l3.8 7.2h-7.6zM1100.3 940.3l3.8 7.2h-7.6zM1101.3 941.6l3.8 7.2h-7.6zM1102.4 944.7l3.8 7.2h-7.6zM1103.4 946.2l3.8 7.2h-7.6zM1104.4 948.5l3.8 7.2h-7.6zM1105.5 942.6l3.8 7.2h-7.6zM1106.5 935.5l3.8 7.2h-7.6zM1107.6 929.2l3.8 7.2h-7.6zM1108.6 924.7l3.8 7.2h-7.6zM1109.6 923.7l3.8 7.2h-7.6zM1110.7 922.6l3.8 7.2h-7.6zM1111.7 927.5l3.8 7.2h-7.6zM1112.8 930.2l3.8 7.2h-7.6zM1113.8 928l3.8 7.2h-7.6zM1114.8 925.6l3.8 7.2h-7.6zM1115.9 925.7l3.8 7.2h-7.6zM1116.9 929.6l3.8 7.2h-7.6zM1118 932.3l3.8 7.2h-7.6zM1119 934.8l3.8 7.2h-7.6zM1120 937.5l3.8 7.2h-7.6zM1121.1 938.2l3.8 7.2h-7.6zM1122.1 941.1l3.8 7.2h-7.6zM1123.2 944.7l3.8 7.2h-7.6zM1124.2 946.7l3.8 7.2h-7.6zM1125.2 945.6l3.8 7.2h-7.6zM1126.3 943.4l3.8 7.2h-7.6zM1127.3 939.6l3.8 7.2h-7.6zM1128.4 936.1l3.8 7.2h-7.6zM1129.4 934.9l3.8 7.2h-7.6zM1130.4 934.9l3.8 7.2h-7.6zM1131.5 930.4l3.8 7.2h-7.6zM1132.5 928.7l3.8 7.2h-7.6zM1133.6 930.7l3.8 7.2h-7.6zM1134.6 935.6l3.8 7.2h-7.6zM1135.6 936l3.8 7.2h-7.6zM1136.7 937.9l3.8 7.2h-7.6zM1137.7 940.6l3.8 7.2h-7.6zM1138.8 946.8l3.8 7.2h-7.6zM1139.8 942.1l3.8 7.2h-7.6zM1140.8 938.2l3.8 7.2h-7.6zM1141.9 934.3l3.8 7.2h-7.6zM1142.9 932.7l3.8 7.2h-7.6zM1144 927.5l3.8 7.2h-7.6zM1145 924.6l3.8 7.2h-7.6zM1146 925.4l3.8 7.2h-7.6zM1147.1 929.1l3.8 7.2h-7.6zM1148.1 933.3l3.8 7.2h-7.6zM1149.2 935.8l3.8 7.2h-7.6zM1150.2 933.6l3.8 7.2h-7.6zM1151.2 934.8l3.8 7.2h-7.6zM1152.3 934.4l3.8 7.2h-7.6zM1153.3 932.5l3.8 7.2h-7.6zM1154.4 932.5l3.8 7.2h-7.6zM1155.4 932.9l3.8 7.2h-7.6zM1156.4 931.7l3.8 7.2h-7.6zM1157.5 930.2l3.8 7.2h-7.6zM1158.5 928.4l3.8 7.2h-7.6zM1159.6 928.4l3.8 7.2h-7.6zM1160.6 928.7l3.8 7.2h-7.6zM1161.6 926.3l3.8 7.2h-7.6zM1162.7 926.1l3.8 7.2h-7.6zM1163.7 927.3l3.8 7.2h-7.6zM1164.8 927.9l3.8 7.2h-7.6zM1165.8 927.3l3.8 7.2h-7.6zM1166.8 924.6l3.8 7.2h-7.6zM1167.9 922.3l3.8 7.2h-7.6zM1168.9 926.2l3.8 7.2h-7.6zM1170 928.6l3.8 7.2h-7.6zM1171 930.9l3.8 7.2h-7.6zM1172 932l3.8 7.2h-7.6zM1173.1 933.8l3.8 7.2h-7.6zM1174.1 933.7l3.8 7.2h-7.6zM1175.2 934.3l3.8 7.2h-7.6zM1176.2 935.6l3.8 7.2h-7.6zM1177.2 936.7l3.8 7.2h-7.6zM1178.3 938.7l3.8 7.2h-7.6zM1179.3 938l3.8 7.2h-7.6zM1180.4 935.2l3.8 7.2h-7.6zM1181.4 934.5l3.8 7.2h-7.6zM1182.4 935.1l3.8 7.2h-7.6zM1183.5 936.3l3.8 7.2h-7.6zM1184.5 937.5l3.8 7.2h-7.6zM1185.6 935.2l3.8 7.2h-7.6zM1186.6 934.5l3.8 7.2h-7.6zM1187.6 929.9l3.8 7.2h-7.6zM1188.7 930l3.8 7.2h-7.6zM1189.7 933.2l3.8 7.2h-7.6zM1190.8 931.7l3.8 7.2h-7.6zM1191.8 932.1l3.8 7.2h-7.6zM1192.8 933.7l3.8 7.2h-7.6zM1193.9 934.2l3.8 7.2h-7.6zM1194.9 935.7l3.8 7.2h-7.6zM1196 937.7l3.8 7.2h-7.6zM1197 939.4l3.8 7.2h-7.6zM1198 940.5l3.8 7.2h-7.6zM1199.1 938.4l3.8 7.2h-7.6zM1200.1 937.7l3.8 7.2h-7.6zM1201.2 936l3.8 7.2h-7.6zM1202.2 935.9l3.8 7.2h-7.6zM1203.2 934.5l3.8 7.2h-7.6zM1204.3 933.6l3.8 7.2h-7.6zM1205.3 933.5l3.8 7.2h-7.6zM1206.4 932.8l3.8 7.2h-7.6zM1207.4 934.1l3.8 7.2h-7.6zM1208.4 936.6l3.8 7.2h-7.6zM1209.5 939.2l3.8 7.2h-7.6zM1210.5 941l3.8 7.2h-7.6zM1211.6 940.5l3.8 7.2h-7.6zM1212.6 939.8l3.8 7.2h-7.6zM1213.6 939l3.8 7.2h-7.6zM1214.7 937.9l3.8 7.2h-7.6zM1215.7 937.8l3.8 7.2h-7.6zM1216.8 937.9l3.8 7.2h-7.6zM1217.8 935.4l3.8 7.2h-7.6zM1218.8 928l3.8 7.2h-7.6zM1219.9 926.4l3.8 7.2h-7.6zM1220.9 926.7l3.8 7.2h-7.6zM1222 926.8l3.8 7.2h-7.6zM1223 925l3.8 7.2h-7.6zM1224 925.1l3.8 7.2h-7.6zM1225.1 926.6l3.8 7.2h-7.6zM1226.1 926.3l3.8 7.2h-7.6zM1227.2 927.7l3.8 7.2h-7.6zM1228.2 929.6l3.8 7.2h-7.6zM1229.2 930.7l3.8 7.2h-7.6zM1230.3 934.8l3.8 7.2h-7.6zM1231.3 933.3l3.8 7.2h-7.6zM1232.4 933.5l3.8 7.2h-7.6zM1233.4 934.7l3.8 7.2h-7.6zM1234.4 930.3l3.8 7.2h-7.6zM1235.5 929.7l3.8 7.2h-7.6zM1236.5 930.2l3.8 7.2h-7.6zM1237.6 932.3l3.8 7.2h-7.6zM1238.6 933l3.8 7.2h-7.6zM1239.6 928.8l3.8 7.2h-7.6zM1240.7 926.4l3.8 7.2h-7.6zM1241.7 929.4l3.8 7.2h-7.6zM1242.8 931.1l3.8 7.2h-7.6zM1243.8 930.5l3.8 7.2h-7.6zM1244.8 931.1l3.8 7.2h-7.6zM1245.9 931.8l3.8 7.2h-7.6zM1246.9 928.1l3.8 7.2h-7.6zM1248 923.3l3.8 7.2h-7.6zM1249 920.5l3.8 7.2h-7.6zM1250 919.4l3.8 7.2h-7.6zM1251.1 921.5l3.8 7.2h-7.6zM1252.1 923.8l3.8 7.2h-7.6zM1253.2 926l3.8 7.2h-7.6zM1254.2 922.6l3.8 7.2h-7.6zM1255.2 922.3l3.8 7.2h-7.6zM1256.3 926.3l3.8 7.2h-7.6zM1257.3 928.1l3.8 7.2h-7.6zM1258.4 927.4l3.8 7.2h-7.6zM1259.4 929.4l3.8 7.2h-7.6zM1260.4 933l3.8 7.2h-7.6zM1261.5 935.4l3.8 7.2h-7.6zM1262.5 937.1l3.8 7.2h-7.6zM1263.6 938.2l3.8 7.2h-7.6zM1264.6 938.4l3.8 7.2h-7.6zM1265.6 938.8l3.8 7.2h-7.6zM1266.7 936.6l3.8 7.2h-7.6zM1267.7 932.8l3.8 7.2h-7.6zM1268.8 931.1l3.8 7.2h-7.6zM1269.8 929.5l3.8 7.2h-7.6zM1270.8 929.7l3.8 7.2h-7.6zM1271.9 930.9l3.8 7.2h-7.6zM1272.9 931l3.8 7.2h-7.6zM1274 932.2l3.8 7.2h-7.6zM1275 937.9l3.8 7.2h-7.6zM1276 939.1l3.8 7.2h-7.6zM1277.1 939.8l3.8 7.2h-7.6zM1278.1 936.2l3.8 7.2h-7.6zM1279.2 935.8l3.8 7.2h-7.6zM1280.2 933.6l3.8 7.2h-7.6zM1281.2 934.2l3.8 7.2h-7.6zM1282.3 932.7l3.8 7.2h-7.6zM1283.3 930.6l3.8 7.2h-7.6zM1284.4 930.3l3.8 7.2h-7.6zM1285.4 932.3l3.8 7.2h-7.6zM1286.4 933.8l3.8 7.2h-7.6zM1287.5 930.5l3.8 7.2h-7.6zM1288.5 931.6l3.8 7.2h-7.6zM1289.6 932.9l3.8 7.2h-7.6zM1290.6 935.8l3.8 7.2h-7.6zM1291.6 936.3l3.8 7.2h-7.6zM1292.7 933.9l3.8 7.2h-7.6zM1293.7 929.8l3.8 7.2h-7.6zM1294.8 927.2l3.8 7.2h-7.6zM1295.8 922l3.8 7.2h-7.6zM1296.8 924.2l3.8 7.2h-7.6zM1297.9 928.5l3.8 7.2h-7.6zM1298.9 931.9l3.8 7.2h-7.6zM1300 933.2l3.8 7.2h-7.6zM1301 935l3.8 7.2h-7.6zM1302 939.1l3.8 7.2h-7.6zM1303.1 940.1l3.8 7.2h-7.6zM1304.1 936.1l3.8 7.2h-7.6zM1305.2 933.8l3.8 7.2h-7.6zM1306.2 932l3.8 7.2h-7.6zM1307.2 931.6l3.8 7.2h-7.6zM1308.3 930.3l3.8 7.2h-7.6zM1309.3 931.1l3.8 7.2h-7.6zM1310.4 932.7l3.8 7.2h-7.6zM1311.4 930l3.8 7.2h-7.6zM1312.4 926.8l3.8 7.2h-7.6zM1313.5 930.3l3.8 7.2h-7.6zM1314.5 931.7l3.8 7.2h-7.6zM1315.6 938.3l3.8 7.2h-7.6zM1316.6 940.9l3.8 7.2h-7.6zM1317.6 941.5l3.8 7.2h-7.6zM1318.7 943l3.8 7.2h-7.6zM1319.7 942.4l3.8 7.2h-7.6zM1320.8 943.8l3.8 7.2h-7.6zM1321.8 940.1l3.8 7.2h-7.6zM1322.8 935.5l3.8 7.2h-7.6zM1323.9 933.4l3.8 7.2h-7.6zM1324.9 932.2l3.8 7.2h-7.6zM1326 929.9l3.8 7.2h-7.6zM1327 928.9l3.8 7.2h-7.6zM1328 928.4l3.8 7.2h-7.6zM1329.1 930.6l3.8 7.2h-7.6zM1330.1 938.1l3.8 7.2h-7.6zM1331.2 944.7l3.8 7.2h-7.6zM1332.2 947.2l3.8 7.2h-7.6zM1333.2 950l3.8 7.2h-7.6zM1334.3 946.5l3.8 7.2h-7.6zM1335.3 944.9l3.8 7.2h-7.6zM1336.4 944.3l3.8 7.2h-7.6zM1337.4 941l3.8 7.2h-7.6zM1338.4 939.3l3.8 7.2h-7.6zM1339.5 940.5l3.8 7.2h-7.6zM1340.5 938.6l3.8 7.2h-7.6zM1341.6 937.8l3.8 7.2h-7.6zM1342.6 937l3.8 7.2h-7.6zM1343.6 936.3l3.8 7.2h-7.6zM1344.7 937.2l3.8 7.2h-7.6zM1345.7 938l3.8 7.2h-7.6zM1346.8 938.4l3.8 7.2h-7.6zM1347.8 940.4l3.8 7.2h-7.6zM1348.8 940.7l3.8 7.2h-7.6zM1349.9 942l3.8 7.2h-7.6zM1350.9 942.4l3.8 7.2h-7.6zM1352 943.9l3.8 7.2h-7.6zM1353 945.4l3.8 7.2h-7.6zM1354 948.5l3.8 7.2h-7.6zM1355.1 948l3.8 7.2h-7.6zM1356.1 946.4l3.8 7.2h-7.6zM1357.2 945.6l3.8 7.2h-7.6zM1358.2 947.5l3.8 7.2h-7.6zM1359.2 949.7l3.8 7.2h-7.6zM1360.3 949.9l3.8 7.2h-7.6zM1361.3 951.8l3.8 7.2h-7.6zM1362.4 952.7l3.8 7.2h-7.6zM1363.4 953.6l3.8 7.2h-7.6zM1364.4 955l3.8 7.2h-7.6zM1365.5 957.3l3.8 7.2h-7.6zM1366.5 959.3l3.8 7.2h-7.6zM1367.6 960.7l3.8 7.2h-7.6zM1368.6 961.8l3.8 7.2h-7.6zM1369.6 962.9l3.8 7.2h-7.6zM1370.7 966.7l3.8 7.2h-7.6zM1371.7 970.9l3.8 7.2h-7.6zM1372.8 975.1l3.8 7.2h-7.6zM1373.8 979.5l3.8 7.2h-7.6zM1374.8 984.9l3.8 7.2h-7.6zM1375.9 990.3l3.8 7.2h-7.6zM1376.9 996l3.8 7.2h-7.6zM1378 1002.6l3.8 7.2h-7.6zM1379 1011.1l3.8 7.2h-7.6zM1380 1022.7l3.8 7.2h-7.6zM1381.1 1037l3.8 7.2h-7.6zM1382.1 1053.1l3.8 7.2h-7.6zM1383.2 1070.6l3.8 7.2h-7.6zM1384.2 1091.4l3.8 7.2h-7.6zM1385.2 1116.2l3.8 7.2h-7.6zM1386.3 1144.6l3.8 7.2h-7.6zM1387.3 1174l3.8 7.2h-7.6zM1388.4 1199.7l3.8 7.2h-7.6zM1389.4 1217.4l3.8 7.2h-7.6zM1390.4 1227.7l3.8 7.2h-7.6zM1391.5 1232.2l3.8 7.2h-7.6zM1392.5 1238.3l3.8 7.2h-7.6zM1393.6 1235.9l3.8 7.2h-7.6zM1394.6 1230.6l3.8 7.2h-7.6zM1395.6 1218.7l3.8 7.2h-7.6zM1396.7 1198l3.8 7.2h-7.6zM1397.7 1169.6l3.8 7.2h-7.6zM1398.8 1140.9l3.8 7.2h-7.6zM1399.8 1113l3.8 7.2h-7.6zM1400.8 1088.8l3.8 7.2h-7.6zM1401.9 1070l3.8 7.2h-7.6zM1402.9 1053.1l3.8 7.2h-7.6zM1404 1041.8l3.8 7.2h-7.6zM1405 1034.5l3.8 7.2h-7.6zM1406 1029.3l3.8 7.2h-7.6zM1407.1 1025.8l3.8 7.2h-7.6zM1408.1 1023.6l3.8 7.2h-7.6zM1409.2 1021.5l3.8 7.2h-7.6zM1410.2 1020.5l3.8 7.2h-7.6zM1411.2 1019.8l3.8 7.2h-7.6zM1412.3 1019.2l3.8 7.2h-7.6zM1413.3 1014.5l3.8 7.2h-7.6zM1414.4 1009l3.8 7.2h-7.6zM1415.4 1005l3.8 7.2h-7.6zM1416.4 1001.3l3.8 7.2h-7.6zM1417.5 998.7l3.8 7.2h-7.6zM1418.5 998l3.8 7.2h-7.6zM1419.6 994.8l3.8 7.2h-7.6zM1420.6 996.9l3.8 7.2h-7.6zM1421.6 1003.6l3.8 7.2h-7.6zM1422.7 1007.5l3.8 7.2h-7.6zM1423.7 1006.9l3.8 7.2h-7.6zM1424.8 1009.3l3.8 7.2h-7.6zM1425.8 1012.3l3.8 7.2h-7.6zM1426.8 1016l3.8 7.2h-7.6zM1427.9 1019.9l3.8 7.2h-7.6zM1428.9 1023.3l3.8 7.2h-7.6zM1430 1026.3l3.8 7.2h-7.6zM1431 1029.1l3.8 7.2h-7.6zM1432 1032.2l3.8 7.2h-7.6zM1433.1 1039.3l3.8 7.2h-7.6zM1434.1 1047.4l3.8 7.2h-7.6zM1435.2 1057.3l3.8 7.2h-7.6zM1436.2 1069.5l3.8 7.2h-7.6zM1437.2 1081.2l3.8 7.2h-7.6zM1438.3 1091.4l3.8 7.2h-7.6zM1439.3 1099.2l3.8 7.2h-7.6zM1440.4 1107l3.8 7.2h-7.6zM1441.4 1112.7l3.8 7.2h-7.6zM1442.4 1119.9l3.8 7.2h-7.6zM1443.5 1126l3.8 7.2h-7.6zM1444.5 1127.6l3.8 7.2h-7.6zM1445.6 1123.7l3.8 7.2h-7.6zM1446.6 1120l3.8 7.2h-7.6zM1447.6 1117.6l3.8 7.2h-7.6zM1448.7 1113.4l3.8 7.2h-7.6zM1449.7 1107.9l3.8 7.2h-7.6zM1450.8 1102.3l3.8 7.2h-7.6zM1451.8 1095.4l3.8 7.2h-7.6zM1452.8 1088.3l3.8 7.2h-7.6zM1453.9 1078.2l3.8 7.2h-7.6zM1454.9 1064.3l3.8 7.2h-7.6zM1456 1052.1l3.8 7.2h-7.6zM1457 1041.3l3.8 7.2h-7.6zM1458 1032.4l3.8 7.2h-7.6zM1459.1 1022.2l3.8 7.2h-7.6zM1460.1 1012l3.8 7.2h-7.6zM1461.2 1003.1l3.8 7.2h-7.6zM1462.2 993.2l3.8 7.2h-7.6zM1463.2 983.1l3.8 7.2h-7.6zM1464.3 975.7l3.8 7.2h-7.6zM1465.3 970.8l3.8 7.2h-7.6zM1466.4 968.1l3.8 7.2h-7.6zM1467.4 965.1l3.8 7.2h-7.6zM1468.4 962.2l3.8 7.2h-7.6zM1469.5 959.9l3.8 7.2h-7.6zM1470.5 957.6l3.8 7.2h-7.6zM1471.6 954.9l3.8 7.2h-7.6zM1472.6 953.3l3.8 7.2h-7.6zM1473.6 952.2l3.8 7.2h-7.6zM1474.7 957l3.8 7.2h-7.6zM1475.7 958.4l3.8 7.2h-7.6zM1476.8 957.5l3.8 7.2h-7.6zM1477.8 955.5l3.8 7.2h-7.6zM1478.8 953.7l3.8 7.2h-7.6zM1479.9 950.1l3.8 7.2h-7.6zM1480.9 950.8l3.8 7.2h-7.6zM1482 956.6l3.8 7.2h-7.6zM1483 960.6l3.8 7.2h-7.6zM1484 965.4l3.8 7.2h-7.6zM1485.1 972.7l3.8 7.2h-7.6zM1486.1 980.1l3.8 7.2h-7.6zM1487.2 982.4l3.8 7.2h-7.6zM1488.2 980.1l3.8 7.2h-7.6zM1489.2 977.9l3.8 7.2h-7.6zM1490.3 969.9l3.8 7.2h-7.6zM1491.3 962.8l3.8 7.2h-7.6zM1492.4 953.8l3.8 7.2h-7.6zM1493.4 943.1l3.8 7.2h-7.6zM1494.4 933.3l3.8 7.2h-7.6zM1495.5 926.9l3.8 7.2h-7.6zM1496.5 925.3l3.8 7.2h-7.6zM1497.6 929.6l3.8 7.2h-7.6zM1498.6 931.1l3.8 7.2h-7.6zM1499.6 933.7l3.8 7.2h-7.6zM1500.7 937.3l3.8 7.2h-7.6zM1501.7 932.9l3.8 7.2h-7.6zM1502.8 937.9l3.8 7.2h-7.6zM1503.8 937.6l3.8 7.2h-7.6zM1504.8 934.1l3.8 7.2h-7.6zM1505.9 937l3.8 7.2h-7.6zM1506.9 940.5l3.8 7.2h-7.6zM1508 943.8l3.8 7.2h-7.6zM1509 948.1l3.8 7.2h-7.6zM1510 953.5l3.8 7.2h-7.6zM1511.1 957.5l3.8 7.2h-7.6zM1512.1 959.3l3.8 7.2h-7.6zM1513.2 958.6l3.8 7.2h-7.6zM1514.2 958.1l3.8 7.2h-7.6zM1515.2 957.8l3.8 7.2h-7.6zM1516.3 957.5l3.8 7.2h-7.6zM1517.3 956.5l3.8 7.2h-7.6zM1518.4 955.6l3.8 7.2h-7.6zM1519.4 960.4l3.8 7.2h-7.6zM1520.4 966.9l3.8 7.2h-7.6zM1521.5 974.3l3.8 7.2h-7.6zM1522.5 981.6l3.8 7.2h-7.6zM1523.6 991.1l3.8 7.2h-7.6zM1524.6 1001.9l3.8 7.2h-7.6zM1525.6 1013.7l3.8 7.2h-7.6zM1526.7 1022.8l3.8 7.2h-7.6zM1527.7 1030.5l3.8 7.2h-7.6zM1528.8 1038l3.8 7.2h-7.6zM1529.8 1041.7l3.8 7.2h-7.6zM1530.8 1036.1l3.8 7.2h-7.6zM1531.9 1030.4l3.8 7.2h-7.6zM1532.9 1024.7l3.8 7.2h-7.6zM1534 1023.1l3.8 7.2h-7.6zM1535 1024.6l3.8 7.2h-7.6zM1536 1026.3l3.8 7.2h-7.6zM1537.1 1031.1l3.8 7.2h-7.6zM1538.1 1027.7l3.8 7.2h-7.6zM1539.2 1024.3l3.8 7.2h-7.6zM1540.2 1024l3.8 7.2h-7.6zM1541.2 1022l3.8 7.2h-7.6zM1542.3 1019l3.8 7.2h-7.6zM1543.3 1020l3.8 7.2h-7.6zM1544.4 1022.6l3.8 7.2h-7.6zM1545.4 1022.4l3.8 7.2h-7.6zM1546.4 1024.1l3.8 7.2h-7.6zM1547.5 1029.5l3.8 7.2h-7.6zM1548.5 1024.3l3.8 7.2h-7.6zM1549.6 1020.8l3.8 7.2h-7.6zM1550.6 1016.1l3.8 7.2h-7.6zM1551.6 1012.3l3.8 7.2h-7.6zM1552.7 1011.4l3.8 7.2h-7.6zM1553.7 1015l3.8 7.2h-7.6zM1554.8 1020l3.8 7.2h-7.6zM1555.8 1024.6l3.8 7.2h-7.6zM1556.8 1029.2l3.8 7.2h-7.6zM1557.9 1026.7l3.8 7.2h-7.6zM1558.9 1019l3.8 7.2h-7.6zM1560 1010.4l3.8 7.2h-7.6zM1561 1000.4l3.8 7.2h-7.6zM1562 987.6l3.8 7.2h-7.6zM1563.1 971.3l3.8 7.2h-7.6zM1564.1 958.9l3.8 7.2h-7.6zM1565.2 949l3.8 7.2h-7.6zM1566.2 944.2l3.8 7.2h-7.6zM1567.2 943.2l3.8 7.2h-7.6zM1568.3 943.6l3.8 7.2h-7.6zM1569.3 942.2l3.8 7.2h-7.6zM1570.4 943.7l3.8 7.2h-7.6zM1571.4 947.4l3.8 7.2h-7.6zM1572.4 951.8l3.8 7.2h-7.6zM1573.5 954.2l3.8 7.2h-7.6zM1574.5 955.9l3.8 7.2h-7.6zM1575.6 957.8l3.8 7.2h-7.6zM1576.6 964l3.8 7.2h-7.6zM1577.6 974.4l3.8 7.2h-7.6zM1578.7 984l3.8 7.2h-7.6zM1579.7 994.1l3.8 7.2h-7.6zM1580.8 1004.5l3.8 7.2h-7.6zM1581.8 1016.8l3.8 7.2h-7.6zM1582.8 1022.8l3.8 7.2h-7.6zM1583.9 1022.3l3.8 7.2h-7.6zM1584.9 1021.7l3.8 7.2h-7.6zM1586 1018.3l3.8 7.2h-7.6zM1587 1017.4l3.8 7.2h-7.6zM1588 1016.2l3.8 7.2h-7.6zM1589.1 1011.3l3.8 7.2h-7.6zM1590.1 1004.1l3.8 7.2h-7.6zM1591.2 996.6l3.8 7.2h-7.6zM1592.2 984l3.8 7.2h-7.6zM1593.2 966.6l3.8 7.2h-7.6zM1594.3 956l3.8 7.2h-7.6zM1595.3 948.7l3.8 7.2h-7.6zM1596.4 942.4l3.8 7.2h-7.6zM1597.4 939.4l3.8 7.2h-7.6zM1598.4 936.2l3.8 7.2h-7.6zM1599.5 935.3l3.8 7.2h-7.6zM1600.5 936.3l3.8 7.2h-7.6zM1601.6 936.7l3.8 7.2h-7.6zM1602.6 937.6l3.8 7.2h-7.6zM1603.6 938.1l3.8 7.2h-7.6zM1604.7 938.7l3.8 7.2h-7.6zM1605.7 938.4l3.8 7.2h-7.6zM1606.8 937.7l3.8 7.2h-7.6zM1607.8 934.5l3.8 7.2h-7.6zM1608.8 924.9l3.8 7.2h-7.6zM1609.9 923.2l3.8 7.2h-7.6zM1610.9 928.9l3.8 7.2h-7.6zM1612 930.3l3.8 7.2h-7.6zM1613 928.8l3.8 7.2h-7.6zM1614 929l3.8 7.2h-7.6zM1615.1 930l3.8 7.2h-7.6zM1616.1 927.5l3.8 7.2h-7.6zM1617.2 932.1l3.8 7.2h-7.6zM1618.2 939.2l3.8 7.2h-7.6zM1619.2 941.3l3.8 7.2h-7.6zM1620.3 946.4l3.8 7.2h-7.6zM1621.3 947.7l3.8 7.2h-7.6zM1622.4 952.5l3.8 7.2h-7.6zM1623.4 960.2l3.8 7.2h-7.6zM1624.4 964.7l3.8 7.2h-7.6zM1625.5 963.3l3.8 7.2h-7.6zM1626.5 959.8l3.8 7.2h-7.6zM1627.6 956.3l3.8 7.2h-7.6zM1628.6 952.9l3.8 7.2h-7.6zM1629.6 950.9l3.8 7.2h-7.6zM1630.7 953.5l3.8 7.2h-7.6zM1631.7 956.8l3.8 7.2h-7.6zM1632.8 960.6l3.8 7.2h-7.6zM1633.8 963.8l3.8 7.2h-7.6zM1634.8 970.9l3.8 7.2h-7.6zM1635.9 978.9l3.8 7.2h-7.6zM1636.9 985.8l3.8 7.2h-7.6zM1638 988.6l3.8 7.2h-7.6zM1639 991.2l3.8 7.2h-7.6zM1640 993.6l3.8 7.2h-7.6zM1641.1 996.3l3.8 7.2h-7.6zM1642.1 999.1l3.8 7.2h-7.6zM1643.2 1001.8l3.8 7.2h-7.6zM1644.2 1007.6l3.8 7.2h-7.6zM1645.2 1019.9l3.8 7.2h-7.6zM1646.3 1043.4l3.8 7.2h-7.6zM1647.3 1062.8l3.8 7.2h-7.6zM1648.4 1077.3l3.8 7.2h-7.6zM1649.4 1089.3l3.8 7.2h-7.6zM1650.4 1098.6l3.8 7.2h-7.6zM1651.5 1108.7l3.8 7.2h-7.6zM1652.5 1118.4l3.8 7.2h-7.6zM1653.6 1123.6l3.8 7.2h-7.6zM1654.6 1121.3l3.8 7.2h-7.6zM1655.6 1117.3l3.8 7.2h-7.6zM1656.7 1112.3l3.8 7.2h-7.6zM1657.7 1105.6l3.8 7.2h-7.6zM1658.8 1098.8l3.8 7.2h-7.6zM1659.8 1088l3.8 7.2h-7.6zM1660.8 1076.8l3.8 7.2h-7.6zM1661.9 1063.9l3.8 7.2h-7.6zM1662.9 1045l3.8 7.2h-7.6zM1664 1030.4l3.8 7.2h-7.6zM1665 1020.2l3.8 7.2h-7.6zM1666 1014.2l3.8 7.2h-7.6zM1667.1 1010.9l3.8 7.2h-7.6zM1668.1 1011.9l3.8 7.2h-7.6zM1669.2 1015.7l3.8 7.2h-7.6zM1670.2 1018l3.8 7.2h-7.6zM1671.2 1022.4l3.8 7.2h-7.6zM1672.3 1028.6l3.8 7.2h-7.6zM1673.3 1036.8l3.8 7.2h-7.6zM1674.4 1046.5l3.8 7.2h-7.6zM1675.4 1067.2l3.8 7.2h-7.6zM1676.4 1083.7l3.8 7.2h-7.6zM1677.5 1097.4l3.8 7.2h-7.6zM1678.5 1109.4l3.8 7.2h-7.6zM1679.6 1115.8l3.8 7.2h-7.6zM1680.6 1119.2l3.8 7.2h-7.6zM1681.6 1117l3.8 7.2h-7.6zM1682.7 1111l3.8 7.2h-7.6zM1683.7 1106l3.8 7.2h-7.6zM1684.8 1102.6l3.8 7.2h-7.6zM1685.8 1097.2l3.8 7.2h-7.6zM1686.8 1093.6l3.8 7.2h-7.6zM1687.9 1096.1l3.8 7.2h-7.6zM1688.9 1096.2l3.8 7.2h-7.6zM1690 1098l3.8 7.2h-7.6zM1691 1097.6l3.8 7.2h-7.6zM1692 1098l3.8 7.2h-7.6zM1693.1 1098.7l3.8 7.2h-7.6zM1694.1 1099.5l3.8 7.2h-7.6zM1695.2 1098.9l3.8 7.2h-7.6zM1696.2 1100.5l3.8 7.2h-7.6zM1697.2 1093.3l3.8 7.2h-7.6zM1698.3 1086.1l3.8 7.2h-7.6zM1699.3 1082.7l3.8 7.2h-7.6zM1700.4 1079.9l3.8 7.2h-7.6zM1701.4 1076.3l3.8 7.2h-7.6zM1702.4 1077.2l3.8 7.2h-7.6zM1703.5 1077.6l3.8 7.2h-7.6zM1704.5 1078l3.8 7.2h-7.6zM1705.6 1078.3l3.8 7.2h-7.6zM1706.6 1075.8l3.8 7.2h-7.6zM1707.6 1069.4l3.8 7.2h-7.6zM1708.7 1065.2l3.8 7.2h-7.6zM1709.7 1058l3.8 7.2h-7.6zM1710.8 1048.1l3.8 7.2h-7.6zM1711.8 1039l3.8 7.2h-7.6zM1712.8 1036.4l3.8 7.2h-7.6zM1713.9 1035l3.8 7.2h-7.6zM1714.9 1037.1l3.8 7.2h-7.6zM1716 1038.5l3.8 7.2h-7.6zM1717 1042.2l3.8 7.2h-7.6zM1718 1044.6l3.8 7.2h-7.6zM1719.1 1048.3l3.8 7.2h-7.6zM1720.1 1050.6l3.8 7.2h-7.6zM1721.2 1048.6l3.8 7.2h-7.6zM1722.2 1050.2l3.8 7.2h-7.6zM1723.2 1054l3.8 7.2h-7.6zM1724.3 1059.9l3.8 7.2h-7.6zM1725.3 1060.9l3.8 7.2h-7.6zM1726.4 1060.5l3.8 7.2h-7.6zM1727.4 1061.2l3.8 7.2h-7.6zM1728.4 1066.6l3.8 7.2h-7.6zM1729.5 1069.3l3.8 7.2h-7.6zM1730.5 1067.8l3.8 7.2h-7.6zM1731.6 1061.7l3.8 7.2h-7.6zM1732.6 1057.5l3.8 7.2h-7.6zM1733.6 1056.5l3.8 7.2h-7.6zM1734.7 1054l3.8 7.2h-7.6zM1735.7 1052.2l3.8 7.2h-7.6zM1736.8 1050.8l3.8 7.2h-7.6zM1737.8 1049.8l3.8 7.2h-7.6zM1738.8 1048l3.8 7.2h-7.6zM1739.9 1046.5l3.8 7.2h-7.6zM1740.9 1042.3l3.8 7.2h-7.6zM1742 1038.1l3.8 7.2h-7.6zM1743 1034.2l3.8 7.2h-7.6zM1744 1029.2l3.8 7.2h-7.6zM1745.1 1022.7l3.8 7.2h-7.6zM1746.1 1017.4l3.8 7.2h-7.6zM1747.2 1009.7l3.8 7.2h-7.6zM1748.2 998.7l3.8 7.2h-7.6zM1749.2 989.6l3.8 7.2h-7.6zM1750.3 983.7l3.8 7.2h-7.6zM1751.3 975.6l3.8 7.2h-7.6zM1752.4 977.1l3.8 7.2h-7.6zM1753.4 985.8l3.8 7.2h-7.6zM1754.4 997.8l3.8 7.2h-7.6zM1755.5 1009.9l3.8 7.2h-7.6zM1756.5 1020l3.8 7.2h-7.6zM1757.6 1027.4l3.8 7.2h-7.6zM1758.6 1034.1l3.8 7.2h-7.6zM1759.6 1028.2l3.8 7.2h-7.6zM1760.7 1026.2l3.8 7.2h-7.6zM1761.7 1022.8l3.8 7.2h-7.6zM1762.8 1017.2l3.8 7.2h-7.6zM1763.8 1012.9l3.8 7.2h-7.6zM1764.8 1010.3l3.8 7.2h-7.6zM1765.9 1005.6l3.8 7.2h-7.6zM1766.9 1003.1l3.8 7.2h-7.6zM1768 1004.9l3.8 7.2h-7.6zM1769 1007.7l3.8 7.2h-7.6zM1770 1011.3l3.8 7.2h-7.6zM1771.1 1013.6l3.8 7.2h-7.6zM1772.1 1014.6l3.8 7.2h-7.6zM1773.2 1015.7l3.8 7.2h-7.6zM1774.2 1016.3l3.8 7.2h-7.6zM1775.2 1013.8l3.8 7.2h-7.6zM1776.3 1009l3.8 7.2h-7.6zM1777.3 1002.7l3.8 7.2h-7.6zM1778.4 983.1l3.8 7.2h-7.6zM1779.4 962.5l3.8 7.2h-7.6zM1780.4 951.5l3.8 7.2h-7.6zM1781.5 941.8l3.8 7.2h-7.6zM1782.5 935l3.8 7.2h-7.6zM1783.6 935l3.8 7.2h-7.6zM1784.6 934.8l3.8 7.2h-7.6zM1785.6 934.6l3.8 7.2h-7.6zM1786.7 935.2l3.8 7.2h-7.6zM1787.7 935.2l3.8 7.2h-7.6zM1788.8 933.2l3.8 7.2h-7.6zM1789.8 941.8l3.8 7.2h-7.6zM1790.8 950.3l3.8 7.2h-7.6zM1791.9 958.8l3.8 7.2h-7.6zM1792.9 963.7l3.8 7.2h-7.6zM1794 968.4l3.8 7.2h-7.6zM1795 972.3l3.8 7.2h-7.6zM1796 975.5l3.8 7.2h-7.6zM1797.1 979.3l3.8 7.2h-7.6zM1798.1 983l3.8 7.2h-7.6zM1799.2 984l3.8 7.2h-7.6zM1800.2 987.8l3.8 7.2h-7.6zM1801.2 985.3l3.8 7.2h-7.6zM1802.3 986.4l3.8 7.2h-7.6zM1803.3 988.5l3.8 7.2h-7.6zM1804.4 979l3.8 7.2h-7.6zM1805.4 976.9l3.8 7.2h-7.6zM1806.4 976.1l3.8 7.2h-7.6zM1807.5 972.9l3.8 7.2h-7.6zM1808.5 963.2l3.8 7.2h-7.6zM1809.6 957.3l3.8 7.2h-7.6zM1810.6 954.6l3.8 7.2h-7.6zM1811.6 954.3l3.8 7.2h-7.6zM1812.7 952.4l3.8 7.2h-7.6zM1813.7 951.4l3.8 7.2h-7.6zM1814.8 953.8l3.8 7.2h-7.6zM1815.8 956.4l3.8 7.2h-7.6zM1816.8 958.6l3.8 7.2h-7.6zM1817.9 961.7l3.8 7.2h-7.6zM1818.9 964.9l3.8 7.2h-7.6zM1820 960.7l3.8 7.2h-7.6zM1821 954l3.8 7.2h-7.6zM1822 946.5l3.8 7.2h-7.6zM1823.1 945.9l3.8 7.2h-7.6zM1824.1 944.7l3.8 7.2h-7.6zM1825.2 943.1l3.8 7.2h-7.6zM1826.2 944.8l3.8 7.2h-7.6zM1827.2 948.9l3.8 7.2h-7.6zM1828.3 953.3l3.8 7.2h-7.6zM1829.3 954l3.8 7.2h-7.6zM1830.4 952.5l3.8 7.2h-7.6zM1831.4 948l3.8 7.2h-7.6zM1832.4 943.6l3.8 7.2h-7.6zM1833.5 935.1l3.8 7.2h-7.6zM1834.5 932.4l3.8 7.2h-7.6zM1835.6 933.4l3.8 7.2h-7.6zM1836.6 940.9l3.8 7.2h-7.6zM1837.6 941.4l3.8 7.2h-7.6zM1838.7 937.8l3.8 7.2h-7.6zM1839.7 936.1l3.8 7.2h-7.6zM1840.8 940.4l3.8 7.2h-7.6zM1841.8 940l3.8 7.2h-7.6zM1842.8 940.1l3.8 7.2h-7.6zM1843.9 943.3l3.8 7.2h-7.6zM1844.9 941.2l3.8 7.2h-7.6zM1846 942.6l3.8 7.2h-7.6zM1847 942.6l3.8 7.2h-7.6zM1848 942.4l3.8 7.2h-7.6zM1849.1 940.2l3.8 7.2h-7.6zM1850.1 939l3.8 7.2h-7.6zM1851.2 939.2l3.8 7.2h-7.6zM1852.2 936.2l3.8 7.2h-7.6zM1853.2 932.8l3.8 7.2h-7.6zM1854.3 931.9l3.8 7.2h-7.6zM1855.3 936.4l3.8 7.2h-7.6zM1856.4 940.5l3.8 7.2h-7.6zM1857.4 945l3.8 7.2h-7.6zM1858.4 948.4l3.8 7.2h-7.6zM1859.5 950.9l3.8 7.2h-7.6zM1860.5 954.9l3.8 7.2h-7.6zM1861.6 961.7l3.8 7.2h-7.6zM1862.6 970.3l3.8 7.2h-7.6zM1863.6 974.8l3.8 7.2h-7.6zM1864.7 974.6l3.8 7.2h-7.6zM1865.7 974.6l3.8 7.2h-7.6zM1866.8 977.2l3.8 7.2h-7.6zM1867.8 982.4l3.8 7.2h-7.6zM1868.8 987.4l3.8 7.2h-7.6zM1869.9 978.4l3.8 7.2h-7.6zM1870.9 970.3l3.8 7.2h-7.6zM1872 966.7l3.8 7.2h-7.6zM1873 963.6l3.8 7.2h-7.6zM1874 962.8l3.8 7.2h-7.6zM1875.1 956l3.8 7.2h-7.6zM1876.1 949.9l3.8 7.2h-7.6zM1877.2 943.5l3.8 7.2h-7.6zM1878.2 936.7l3.8 7.2h-7.6zM1879.2 937.8l3.8 7.2h-7.6zM1880.3 941.7l3.8 7.2h-7.6zM1881.3 944.4l3.8 7.2h-7.6zM1882.4 947.9l3.8 7.2h-7.6zM1883.4 950.6l3.8 7.2h-7.6zM1884.4 951.8l3.8 7.2h-7.6zM1885.5 952.1l3.8 7.2h-7.6zM1886.5 950.4l3.8 7.2h-7.6zM1887.6 950.7l3.8 7.2h-7.6zM1888.6 949.5l3.8 7.2h-7.6zM1889.6 947.7l3.8 7.2h-7.6zM1890.7 945.5l3.8 7.2h-7.6zM1891.7 943.8l3.8 7.2h-7.6zM1892.8 943.6l3.8 7.2h-7.6zM1893.8 944.2l3.8 7.2h-7.6zM1894.8 941l3.8 7.2h-7.6zM1895.9 938.3l3.8 7.2h-7.6zM1896.9 937.5l3.8 7.2h-7.6zM1898 938.6l3.8 7.2h-7.6zM1899 948.5l3.8 7.2h-7.6zM1900 953.3l3.8 7.2h-7.6zM1901.1 959l3.8 7.2h-7.6zM1902.1 958.4l3.8 7.2h-7.6zM1903.2 957.1l3.8 7.2h-7.6zM1904.2 952.5l3.8 7.2h-7.6zM1905.2 945l3.8 7.2h-7.6zM1906.3 951.8l3.8 7.2h-7.6zM1907.3 953.6l3.8 7.2h-7.6zM1908.4 953.4l3.8 7.2h-7.6zM1909.4 951.9l3.8 7.2h-7.6zM1910.4 947.2l3.8 7.2h-7.6zM1911.5 942.7l3.8 7.2h-7.6zM1912.5 937.3l3.8 7.2h-7.6zM1913.6 934.9l3.8 7.2h-7.6zM1914.6 932.5l3.8 7.2h-7.6zM1915.6 933.5l3.8 7.2h-7.6zM1916.7 937.8l3.8 7.2h-7.6zM1917.7 943.4l3.8 7.2h-7.6zM1918.8 952.5l3.8 7.2h-7.6zM1919.8 963.4l3.8 7.2h-7.6zM1920.8 975.9l3.8 7.2h-7.6zM1921.9 985.6l3.8 7.2h-7.6zM1922.9 986.2l3.8 7.2h-7.6zM1924 986.5l3.8 7.2h-7.6zM1925 987.5l3.8 7.2h-7.6zM1926 988.3l3.8 7.2h-7.6zM1927.1 989.7l3.8 7.2h-7.6zM1928.1 994.7l3.8 7.2h-7.6zM1929.2 1000.4l3.8 7.2h-7.6zM1930.2 1004.4l3.8 7.2h-7.6zM1931.2 1006.5l3.8 7.2h-7.6zM1932.3 1009.1l3.8 7.2h-7.6zM1933.3 1013.5l3.8 7.2h-7.6zM1934.4 1016.3l3.8 7.2h-7.6zM1935.4 1015.1l3.8 7.2h-7.6zM1936.4 1012.7l3.8 7.2h-7.6zM1937.5 1009.3l3.8 7.2h-7.6zM1938.5 1011.7l3.8 7.2h-7.6zM1939.6 1007.1l3.8 7.2h-7.6zM1940.6 1003.7l3.8 7.2h-7.6zM1941.6 1006.2l3.8 7.2h-7.6zM1942.7 1009.1l3.8 7.2h-7.6zM1943.7 1012.3l3.8 7.2h-7.6zM1944.8 1015.9l3.8 7.2h-7.6zM1945.8 1013.6l3.8 7.2h-7.6zM1946.8 1010l3.8 7.2h-7.6zM1947.9 1005.9l3.8 7.2h-7.6zM1948.9 994.9l3.8 7.2h-7.6zM1950 984.4l3.8 7.2h-7.6zM1951 971.6l3.8 7.2h-7.6zM1952 960.3l3.8 7.2h-7.6zM1953.1 953.7l3.8 7.2h-7.6zM1954.1 951.7l3.8 7.2h-7.6zM1955.2 951.1l3.8 7.2h-7.6zM1956.2 959.2l3.8 7.2h-7.6zM1957.2 971.2l3.8 7.2h-7.6zM1958.3 990.1l3.8 7.2h-7.6zM1959.3 1012.7l3.8 7.2h-7.6zM1960.4 1024.1l3.8 7.2h-7.6zM1961.4 1030l3.8 7.2h-7.6zM1962.4 1032.7l3.8 7.2h-7.6zM1963.5 1031.4l3.8 7.2h-7.6zM1964.5 1031.3l3.8 7.2h-7.6zM1965.6 1031.1l3.8 7.2h-7.6zM1966.6 1030.1l3.8 7.2h-7.6zM1967.6 1029.8l3.8 7.2h-7.6zM1968.7 1030.9l3.8 7.2h-7.6zM1969.7 1031.9l3.8 7.2h-7.6zM1970.8 1033l3.8 7.2h-7.6zM1971.8 1032.6l3.8 7.2h-7.6zM1972.8 1022.5l3.8 7.2h-7.6zM1973.9 1012.8l3.8 7.2h-7.6zM1974.9 1016.4l3.8 7.2h-7.6zM1976 1032.6l3.8 7.2h-7.6zM1977 1062.7l3.8 7.2h-7.6zM1978 1079.3l3.8 7.2h-7.6zM1979.1 1096l3.8 7.2h-7.6zM1980.1 1105.4l3.8 7.2h-7.6zM1981.2 1108.5l3.8 7.2h-7.6zM1982.2 1113.5l3.8 7.2h-7.6zM1983.2 1122.1l3.8 7.2h-7.6zM1984.3 1131.6l3.8 7.2h-7.6zM1985.3 1136.4l3.8 7.2h-7.6zM1986.4 1115.2l3.8 7.2h-7.6zM1987.4 1084.8l3.8 7.2h-7.6zM1988.4 1044.8l3.8 7.2h-7.6zM1989.5 1023.9l3.8 7.2h-7.6zM1990.5 1033.5l3.8 7.2h-7.6zM1991.6 1050.7l3.8 7.2h-7.6zM1992.6 1068.5l3.8 7.2h-7.6zM1993.6 1077.2l3.8 7.2h-7.6zM1994.7 1084.1l3.8 7.2h-7.6z" fill="#ffa244" stroke="#ffa244" stroke-width="1" stroke-linejoin="round"/>
<path d="M172 1548h0M173 1552.2h0M174.1 1551.3h0M175.1 1550.7h0M176.2 1549.6h0M177.2 1547.3h0M178.2 1550h0M179.3 1549.4h0M180.3 1549.8h0M181.4 1550.1h0M182.4 1554.1h0M183.4 1557.1h0M184.5 1555.8h0M185.5 1551.9h0M186.6 1551h0M187.6 1549.7h0M188.6 1549.9h0M189.7 1551.5h0M190.7 1558.8h0M191.8 1554.6h0M192.8 1556h0M193.8 1558.3h0M194.9 1555h0M195.9 1554.6h0M197 1555.6h0M198 1555.6h0M199 1557h0M200.1 1556.1h0M201.1 1558.7h0M202.2 1560.2h0M203.2 1561h0M204.2 1563h0M205.3 1565.2h0M206.3 1565.5h0M207.4 1564.1h0M208.4 1564.6h0M209.4 1560.2h0M210.5 1559h0M211.5 1559.4h0M212.6 1557.8h0M213.6 1564.7h0M214.6 1567.1h0M215.7 1568.8h0M216.7 1564.6h0M217.8 1563.8h0M218.8 1563.6h0M219.8 1561.9h0M220.9 1560.3h0M221.9 1565.1h0M223 1563.9h0M224 1564h0M225 1561.5h0M226.1 1565.4h0M227.1 1564h0M228.2 1563.2h0M229.2 1564.8h0M230.2 1564.3h0M231.3 1559.6h0M232.3 1561.7h0M233.4 1562.6h0M234.4 1560.3h0M235.4 1558h0M236.5 1561.3h0M237.5 1561.9h0M238.6 1560h0M239.6 1565h0M240.6 1561.2h0M241.7 1558.7h0M242.7 1559.3h0M243.8 1559.5h0M244.8 1563.6h0M245.8 1561.1h0M246.9 1560.2h0M247.9 1558.2h0M249 1556.5h0M250 1555h0M251 1552.9h0M252.1 1550h0M253.1 1553.6h0M254.2 1554.3h0M255.2 1555.9h0M256.2 1553.5h0M257.3 1553h0M258.3 1554h0M259.4 1556.2h0M260.4 1557.5h0M261.4 1554.9h0M262.5 1556.4h0M263.5 1556.2h0M264.6 1556.4h0M265.6 1555.6h0M266.6 1553.9h0M267.7 1558.2h0M268.7 1557.8h0M269.8 1557.6h0M270.8 1559.2h0M271.8 1556.6h0M272.9 1559.6h0M273.9 1554h0M275 1556h0M276 1552.9h0M277 1552.7h0M278.1 1553h0M279.1 1548.3h0M280.2 1551.6h0M281.2 1552.3h0M282.2 1552h0M283.3 1551h0M284.3 1550.5h0M285.4 1550.8h0M286.4 1553.5h0M287.4 1557h0M288.5 1557.4h0M289.5 1555.8h0M290.6 1554h0M291.6 1557.6h0M292.6 1555h0M293.7 1556.9h0M294.7 1551.4h0M295.8 1548.5h0M296.8 1551.3h0M297.8 1549.6h0M298.9 1549.2h0M299.9 1552.8h0M301 1547.6h0M302 1551.9h0M303 1549.4h0M304.1 1552.3h0M305.1 1552.8h0M306.2 1550.4h0M307.2 1553h0M308.2 1552.9h0M309.3 1554.3h0M310.3 1556.2h0M311.4 1559.5h0M312.4 1558.1h0M313.4 1559.1h0M314.5 1563.4h0M315.5 1559.8h0M316.6 1557.9h0M317.6 1551.8h0M318.6 1549.3h0M319.7 1548.4h0M320.7 1551.5h0M321.8 1555.9h0M322.8 1560.3h0M323.8 1555.5h0M324.9 1558.8h0M325.9 1561.6h0M327 1560.5h0M328 1560.8h0M329 1556.5h0M330.1 1553.5h0M331.1 1556.6h0M332.2 1554.5h0M333.2 1553h0M334.2 1556.5h0M335.3 1560.8h0M336.3 1562.8h0M337.4 1568.4h0M338.4 1567.5h0M339.4 1564.9h0M340.5 1561.5h0M341.5 1562.3h0M342.6 1557.7h0M343.6 1556.5h0M344.6 1556h0M345.7 1559.1h0M346.7 1561.9h0M347.8 1560.9h0M348.8 1555h0M349.8 1552.5h0M350.9 1555.5h0M351.9 1555.8h0M353 1556.9h0M354 1554.7h0M355 1558.5h0M356.1 1556.3h0M357.1 1556.4h0M358.2 1557h0M359.2 1558h0M360.2 1560.8h0M361.3 1563.4h0M362.3 1562.4h0M363.4 1568.3h0M364.4 1567.1h0M365.4 1568.2h0M366.5 1570.3h0M367.5 1565.8h0M368.6 1567.7h0M369.6 1570.5h0M370.6 1573h0M371.7 1575.1h0M372.7 1574.9h0M373.8 1570.9h0M374.8 1573h0M375.8 1571.1h0M376.9 1573.4h0M377.9 1569.6h0M379 1570h0M380 1565.7h0M381 1568h0M382.1 1565.3h0M383.1 1568.4h0M384.2 1565.2h0M385.2 1565.4h0M386.2 1563.5h0M387.3 1564.7h0M388.3 1569h0M389.4 1571.9h0M390.4 1572.7h0M391.4 1574.1h0M392.5 1575.4h0M393.5 1577.3h0M394.6 1577.7h0M395.6 1575.1h0M396.6 1574.9h0M397.7 1569.1h0M398.7 1569.8h0M399.8 1566.6h0M400.8 1574.1h0M401.8 1572.4h0M402.9 1573.2h0M403.9 1574.9h0M405 1574.5h0M406 1575.5h0M407 1576h0M408.1 1579.1h0M409.1 1583.5h0M410.2 1582.3h0M411.2 1584.3h0M412.2 1582h0M413.3 1579.1h0M414.3 1575.2h0M415.4 1573.5h0M416.4 1571.1h0M417.4 1568.6h0M418.5 1571.3h0M419.5 1574.8h0M420.6 1574.1h0M421.6 1571.9h0M422.6 1573.6h0M423.7 1575.2h0M424.7 1573.8h0M425.8 1574.1h0M426.8 1573.9h0M427.8 1573.6h0M428.9 1572.8h0M429.9 1572.2h0M431 1569.8h0M432 1572h0M433 1571.7h0M434.1 1572h0M435.1 1570.6h0M436.2 1570.8h0M437.2 1570.2h0M438.2 1569.4h0M439.3 1569.1h0M440.3 1569.3h0M441.4 1571.3h0M442.4 1571.1h0M443.4 1575.2h0M444.5 1576.5h0M445.5 1578.4h0M446.6 1579.7h0M447.6 1580.8h0M448.6 1578.1h0M449.7 1575.2h0M450.7 1577.2h0M451.8 1576.2h0M452.8 1574.6h0M453.8 1575h0M454.9 1572.2h0M455.9 1571.1h0M457 1568.6h0M458 1570.3h0M459 1573h0M460.1 1573.9h0M461.1 1573.3h0M462.2 1579.7h0M463.2 1576.2h0M464.2 1575.5h0M465.3 1575.1h0M466.3 1574.8h0M467.4 1574.3h0M468.4 1572.6h0M469.4 1570h0M470.5 1571.1h0M471.5 1572.5h0M472.6 1573.8h0M473.6 1571h0M474.6 1569.2h0M475.7 1568.1h0M476.7 1573.3h0M477.8 1571.4h0M478.8 1572.8h0M479.8 1573h0M480.9 1572.5h0M481.9 1579.8h0M483 1579.3h0M484 1581.8h0M485 1578.9h0M486.1 1578.6h0M487.1 1577.7h0M488.2 1571.4h0M489.2 1568.8h0M490.2 1569.9h0M491.3 1571.9h0M492.3 1576.5h0M493.4 1575.1h0M494.4 1571.3h0M495.4 1575.4h0M496.5 1575.8h0M497.5 1575.9h0M498.6 1568.8h0M499.6 1569.5h0M500.6 1571.6h0M501.7 1569.6h0M502.7 1570.8h0M503.8 1571.4h0M504.8 1568.3h0M505.8 1572.6h0M506.9 1576.9h0M507.9 1578.9h0M509 1579.5h0M510 1574.3h0M511 1571.5h0M512.1 1570.4h0M513.1 1570.7h0M514.2 1571.2h0M515.2 1572.3h0M516.2 1574.2h0M517.3 1574.6h0M518.3 1575.9h0M519.4 1574.8h0M520.4 1573.4h0M521.4 1570h0M522.5 1567h0M523.5 1568.1h0M524.6 1571.1h0M525.6 1568.9h0M526.6 1565.8h0M527.7 1563.6h0M528.7 1562.7h0M529.8 1561.7h0M530.8 1562.4h0M531.8 1562.8h0M532.9 1563.5h0M533.9 1561.1h0M535 1562h0M536 1564.7h0M537 1567.8h0M538.1 1569.2h0M539.1 1565h0M540.2 1568.8h0M541.2 1566.4h0M542.2 1567.5h0M543.3 1563.5h0M544.3 1561.8h0M545.4 1559.7h0M546.4 1560.5h0M547.4 1557.6h0M548.5 1561.4h0M549.5 1557.8h0M550.6 1560.8h0M551.6 1562.2h0M552.6 1561.8h0M553.7 1562.5h0M554.7 1562.4h0M555.8 1562h0M556.8 1562.3h0M557.8 1561.9h0M558.9 1560.5h0M559.9 1563.5h0M561 1564.7h0M562 1566.7h0M563 1567.7h0M564.1 1564.9h0M565.1 1563.6h0M566.2 1562h0M567.2 1566.5h0M568.2 1565.8h0M569.3 1567.6h0M570.3 1560.9h0M571.4 1564.7h0M572.4 1567.3h0M573.4 1566.5h0M574.5 1563.3h0M575.5 1561.7h0M576.6 1560.2h0M577.6 1560.2h0M578.6 1561.5h0M579.7 1564.4h0M580.7 1564.6h0M581.8 1564.6h0M582.8 1563.1h0M583.8 1562.2h0M584.9 1559.3h0M585.9 1561.1h0M587 1560.1h0M588 1561.7h0M589 1557.4h0M590.1 1556h0M591.1 1554.9h0M592.2 1553.1h0M593.2 1556.2h0M594.2 1556.9h0M595.3 1559h0M596.3 1561.9h0M597.4 1559.2h0M598.4 1559.5h0M599.4 1560.5h0M600.5 1561h0M601.5 1556.9h0M602.6 1559.4h0M603.6 1556.6h0M604.6 1554.7h0M605.7 1558.5h0M606.7 1562.6h0M607.8 1563.1h0M608.8 1563.5h0M609.8 1560.2h0M610.9 1557.5h0M611.9 1559.5h0M613 1555h0M614 1556.7h0M615 1556h0M616.1 1557.5h0M617.1 1558.9h0M618.2 1555.2h0M619.2 1556.9h0M620.2 1556.3h0M621.3 1558.4h0M622.3 1556h0M623.4 1554.3h0M624.4 1554.2h0M625.4 1556.3h0M626.5 1550.4h0M627.5 1550.5h0M628.6 1550.8h0M629.6 1550.2h0M630.6 1551.9h0M631.7 1549.3h0M632.7 1549.3h0M633.8 1551.2h0M634.8 1551.9h0M635.8 1550.5h0M636.9 1555.4h0M637.9 1549.3h0M639 1548.1h0M640 1550.7h0M641 1548.1h0M642.1 1547.1h0M643.1 1550.4h0M644.2 1549.7h0M645.2 1551.4h0M646.2 1549.5h0M647.3 1548.5h0M648.3 1547.4h0M649.4 1549.3h0M650.4 1548h0M651.4 1550.4h0M652.5 1548.2h0M653.5 1548h0M654.6 1549.9h0M655.6 1547.8h0M656.6 1549.3h0M657.7 1551.2h0M658.7 1548.8h0M659.8 1549.6h0M660.8 1549.7h0M661.8 1547.4h0M662.9 1550.7h0M663.9 1552.8h0M665 1554.5h0M666 1556.2h0M667 1558.7h0M668.1 1560.5h0M669.1 1562h0M670.2 1560.2h0M671.2 1557.2h0M672.2 1556.3h0M673.3 1554.6h0M674.3 1553h0M675.4 1552.2h0M676.4 1552h0M677.4 1548.4h0M678.5 1552.6h0M679.5 1550.9h0M680.6 1549.1h0M681.6 1550.5h0M682.6 1549.9h0M683.7 1554.3h0M684.7 1552.9h0M685.8 1556.1h0M686.8 1557h0M687.8 1553.9h0M688.9 1551h0M689.9 1552.5h0M691 1552.8h0M692 1554.1h0M693 1554.4h0M694.1 1557.7h0M695.1 1558.8h0M696.2 1555.2h0M697.2 1557.6h0M698.2 1561.5h0M699.3 1563.8h0M700.3 1561.3h0M701.4 1562.1h0M702.4 1563.1h0M703.4 1566.8h0M704.5 1563.7h0M705.5 1563.8h0M706.6 1563.5h0M707.6 1564.5h0M708.6 1564.7h0M709.7 1568.9h0M710.7 1572.2h0M711.8 1572.4h0M712.8 1574.9h0M713.8 1576.1h0M714.9 1578.5h0M715.9 1580.4h0M717 1582.4h0M718 1583h0M719 1584h0M720.1 1584.4h0M721.1 1585.3h0M722.2 1587.1h0M723.2 1592.5h0M724.2 1596.2h0M725.3 1601.6h0M726.3 1606.3h0M727.4 1609.1h0M728.4 1612h0M729.4 1613.9h0M730.5 1616.5h0M731.5 1618.5h0M732.6 1623.1h0M733.6 1625.2h0M734.6 1626.7h0M735.7 1629.3h0M736.7 1633h0M737.8 1637.4h0M738.8 1641.3h0M739.8 1645.8h0M740.9 1649.9h0M741.9 1655h0M743 1658.8h0M744 1663.2h0M745 1668.8h0M746.1 1673.2h0M747.1 1676.6h0M748.2 1679.3h0M749.2 1681.3h0M750.2 1682.8h0M751.3 1679h0M752.3 1674.3h0M753.4 1667.5h0M754.4 1658.5h0M755.4 1652.5h0M756.5 1647.2h0M757.5 1641.4h0M758.6 1636.8h0M759.6 1633.1h0M760.6 1629.6h0M761.7 1625.6h0M762.7 1623.7h0M763.8 1620.1h0M764.8 1616.6h0M765.8 1614.3h0M766.9 1614.5h0M767.9 1614.3h0M769 1614.8h0M770 1617.5h0M771 1618.5h0M772.1 1619.4h0M773.1 1618.4h0M774.2 1620.6h0M775.2 1621.4h0M776.2 1620.8h0M777.3 1621.4h0M778.3 1623h0M779.4 1624.1h0M780.4 1624.9h0M781.4 1628.7h0M782.5 1627.2h0M783.5 1628.7h0M784.6 1630.5h0M785.6 1627.8h0M786.6 1622.6h0M787.7 1617h0M788.7 1611.3h0M789.8 1604.7h0M790.8 1599.2h0M791.8 1594.7h0M792.9 1590.2h0M793.9 1585.9h0M795 1581.5h0M796 1578.3h0M797 1575.4h0M798.1 1573.6h0M799.1 1571h0M800.2 1568.5h0M801.2 1567h0M802.2 1566.3h0M803.3 1564.8h0M804.3 1562.8h0M805.4 1562.6h0M806.4 1561h0M807.4 1559.3h0M808.5 1559.4h0M809.5 1555.6h0M810.6 1558.2h0M811.6 1557.1h0M812.6 1556.8h0M813.7 1556.8h0M814.7 1553.4h0M815.8 1554h0M816.8 1554.7h0M817.8 1554.8h0M818.9 1554h0M819.9 1553.6h0M821 1551.3h0M822 1552.3h0M823 1550.1h0M824.1 1553.7h0M825.1 1551.3h0M826.2 1551h0M827.2 1552.1h0M828.2 1552.7h0M829.3 1552.6h0M830.3 1551.2h0M831.4 1553.6h0M832.4 1552.6h0M833.4 1550.4h0M834.5 1548.9h0M835.5 1549.8h0M836.6 1550.3h0M837.6 1547.4h0M838.6 1548.1h0M839.7 1549.8h0M840.7 1550.1h0M841.8 1551.3h0M842.8 1551.8h0M843.8 1552.6h0M844.9 1552.4h0M845.9 1552.6h0M847 1553.4h0M848 1553.5h0M849 1553.6h0M850.1 1558h0M851.1 1558.9h0M852.2 1558h0M853.2 1555.7h0M854.2 1557.6h0M855.3 1553.6h0M856.3 1555.2h0M857.4 1554.6h0M858.4 1553.7h0M859.4 1552.9h0M860.5 1552.3h0M861.5 1553.5h0M862.6 1554h0M863.6 1555.6h0M864.6 1555.4h0M865.7 1555.1h0M866.7 1552.2h0M867.8 1551.6h0M868.8 1554h0M869.8 1554.9h0M870.9 1551.8h0M871.9 1551.3h0M873 1552.5h0M874 1554.3h0M875 1554.3h0M876.1 1554.3h0M877.1 1553.3h0M878.2 1554.1h0M879.2 1554.4h0M880.2 1552.2h0M881.3 1554.7h0M882.3 1553.4h0M883.4 1555h0M884.4 1553.3h0M885.4 1554.8h0M886.5 1553.9h0M887.5 1553.3h0M888.6 1553.9h0M889.6 1552.7h0M890.6 1553.9h0M891.7 1551.2h0M892.7 1551.7h0M893.8 1553h0M894.8 1551.9h0M895.8 1552.3h0M896.9 1550.5h0M897.9 1549.3h0M899 1551.2h0M900 1551.2h0M901 1551.3h0M902.1 1550.4h0M903.1 1551.4h0M904.2 1549.3h0M905.2 1549h0M906.2 1548.5h0M907.3 1547.3h0M908.3 1549.6h0M909.4 1548.4h0M910.4 1549h0M911.4 1546.2h0M912.5 1546h0M913.5 1547.1h0M914.6 1549.1h0M915.6 1550.8h0M916.6 1550.5h0M917.7 1549.7h0M918.7 1550h0M919.8 1549.2h0M920.8 1550.2h0M921.8 1550.8h0M922.9 1548.7h0M923.9 1548.3h0M925 1546.8h0M926 1548.2h0M927 1549.4h0M928.1 1548.1h0M929.1 1549.5h0M930.2 1550h0M931.2 1550.7h0M932.2 1552.7h0M933.3 1551.1h0M934.3 1549.3h0M935.4 1548.5h0M936.4 1548.9h0M937.4 1547.9h0M938.5 1550.8h0M939.5 1549.6h0M940.6 1547.6h0M941.6 1547.4h0M942.6 1549.3h0M943.7 1549.1h0M944.7 1552.4h0M945.8 1551.1h0M946.8 1550.9h0M947.8 1551.5h0M948.9 1551.5h0M949.9 1548.2h0M951 1549.3h0M952 1547.9h0M953 1549.7h0M954.1 1549.3h0M955.1 1551.5h0M956.2 1549.9h0M957.2 1549.7h0M958.2 1551.7h0M959.3 1550h0M960.3 1548.5h0M961.4 1547.4h0M962.4 1550.6h0M963.4 1549.2h0M964.5 1550.1h0M965.5 1550.5h0M966.6 1549.9h0M967.6 1549.1h0M968.6 1550h0M969.7 1549.8h0M970.7 1549h0M971.8 1549.6h0M972.8 1551h0M973.8 1549.3h0M974.9 1549.5h0M975.9 1549.5h0M977 1547.9h0M978 1548.4h0M979 1547.6h0M980.1 1548.9h0M981.1 1548.4h0M982.2 1548.2h0M983.2 1548.2h0M984.2 1550.1h0M985.3 1550.5h0M986.3 1550.8h0M987.4 1551.6h0M988.4 1552.9h0M989.4 1552.3h0M990.5 1551.6h0M991.5 1549.9h0M992.6 1549.8h0M993.6 1551.4h0M994.6 1553h0M995.7 1554.9h0M996.7 1552.9h0M997.8 1552.4h0M998.8 1553.7h0M999.8 1553.7h0M1000.9 1552.1h0M1001.9 1552.2h0M1003 1553.1h0M1004 1554.6h0M1005 1556h0M1006.1 1550.5h0M1007.1 1551.4h0M1008.2 1552.2h0M1009.2 1554h0M1010.2 1554.8h0M1011.3 1554.6h0M1012.3 1553.5h0M1013.4 1554.1h0M1014.4 1556.6h0M1015.4 1556.2h0M1016.5 1556.2h0M1017.5 1556.3h0M1018.6 1554.6h0M1019.6 1556.3h0M1020.6 1554.7h0M1021.7 1554.4h0M1022.7 1554.7h0M1023.8 1556.8h0M1024.8 1560.5h0M1025.8 1558h0M1026.9 1557.3h0M1027.9 1557.4h0M1029 1554.8h0M1030 1553.6h0M1031 1554.7h0M1032.1 1555.5h0M1033.1 1554.8h0M1034.2 1555.9h0M1035.2 1555.3h0M1036.2 1556.7h0M1037.3 1556.4h0M1038.3 1556.8h0M1039.4 1555.9h0M1040.4 1554.3h0M1041.4 1552.1h0M1042.5 1552.9h0M1043.5 1551.4h0M1044.6 1554.1h0M1045.6 1556.1h0M1046.6 1553.9h0M1047.7 1554.1h0M1048.7 1551.9h0M1049.8 1548.7h0M1050.8 1549.5h0M1051.8 1550h0M1052.9 1552.2h0M1053.9 1552.6h0M1055 1553.5h0M1056 1553.5h0M1057 1554.7h0M1058.1 1554.2h0M1059.1 1551.9h0M1060.2 1552.5h0M1061.2 1555.4h0M1062.2 1556.7h0M1063.3 1557.2h0M1064.3 1556.9h0M1065.4 1558.4h0M1066.4 1559.9h0M1067.4 1557.8h0M1068.5 1557.5h0M1069.5 1557h0M1070.6 1558.5h0M1071.6 1559.8h0M1072.6 1561.6h0M1073.7 1561.8h0M1074.7 1561.3h0M1075.8 1563.7h0M1076.8 1562.5h0M1077.8 1562.5h0M1078.9 1563.6h0M1079.9 1564h0M1081 1564h0M1082 1562.9h0M1083 1561.6h0M1084.1 1560.9h0M1085.1 1558.6h0M1086.2 1559h0M1087.2 1560.7h0M1088.2 1559.1h0M1089.3 1558.2h0M1090.3 1557.5h0M1091.4 1556.7h0M1092.4 1557.4h0M1093.4 1555.9h0M1094.5 1556.7h0M1095.5 1554.4h0M1096.6 1555.1h0M1097.6 1553.9h0M1098.6 1552h0M1099.7 1554h0M1100.7 1554.8h0M1101.8 1555.2h0M1102.8 1554.7h0M1103.8 1556.4h0M1104.9 1555.8h0M1105.9 1553.9h0M1107 1552.7h0M1108 1556h0M1109 1553h0M1110.1 1555h0M1111.1 1552.8h0M1112.2 1552.3h0M1113.2 1552.4h0M1114.2 1549.4h0M1115.3 1549.7h0M1116.3 1550.3h0M1117.4 1553.2h0M1118.4 1554.9h0M1119.4 1554.5h0M1120.5 1551.9h0M1121.5 1552.5h0M1122.6 1550.7h0M1123.6 1551.9h0M1124.6 1549.6h0M1125.7 1550.4h0M1126.7 1550.6h0M1127.8 1550.5h0M1128.8 1552.4h0M1129.8 1553.1h0M1130.9 1552.6h0M1131.9 1550h0M1133 1549.4h0M1134 1549.5h0M1135 1551.7h0M1136.1 1550.1h0M1137.1 1551.6h0M1138.2 1549.4h0M1139.2 1553.2h0M1140.2 1552.3h0M1141.3 1550.2h0M1142.3 1551.9h0M1143.4 1552.6h0M1144.4 1553.3h0M1145.4 1553.7h0M1146.5 1554.3h0M1147.5 1553.7h0M1148.6 1552.8h0M1149.6 1552.7h0M1150.6 1550.5h0M1151.7 1552h0M1152.7 1550.1h0M1153.8 1551.2h0M1154.8 1550h0M1155.8 1551h0M1156.9 1549.3h0M1157.9 1548.3h0M1159 1550.8h0M1160 1551.3h0M1161 1552.3h0M1162.1 1551.7h0M1163.1 1552.2h0M1164.2 1552.5h0M1165.2 1550.7h0M1166.2 1552h0M1167.3 1552.3h0M1168.3 1550.9h0M1169.4 1551.9h0M1170.4 1552h0M1171.4 1551.6h0M1172.5 1551.9h0M1173.5 1551.5h0M1174.6 1550.5h0M1175.6 1553.3h0M1176.6 1551.2h0M1177.7 1550h0M1178.7 1551.8h0M1179.8 1550.2h0M1180.8 1552.6h0M1181.8 1551.6h0M1182.9 1553.2h0M1183.9 1553.3h0M1185 1551.9h0M1186 1552.9h0M1187 1553.3h0M1188.1 1553.4h0M1189.1 1554.2h0M1190.2 1553.1h0M1191.2 1552.1h0M1192.2 1550.9h0M1193.3 1550.7h0M1194.3 1550.1h0M1195.4 1550.4h0M1196.4 1551.6h0M1197.4 1554h0M1198.5 1554.3h0M1199.5 1556.3h0M1200.6 1553.2h0M1201.6 1554h0M1202.6 1552.5h0M1203.7 1552.2h0M1204.7 1555h0M1205.8 1554.6h0M1206.8 1553.5h0M1207.8 1554.6h0M1208.9 1553.3h0M1209.9 1554.9h0M1211 1551.8h0M1212 1552.5h0M1213 1552.2h0M1214.1 1552.1h0M1215.1 1553.2h0M1216.2 1553.9h0M1217.2 1554.4h0M1218.2 1553h0M1219.3 1552.1h0M1220.3 1553h0M1221.4 1552.3h0M1222.4 1554.5h0M1223.4 1552.2h0M1224.5 1554.3h0M1225.5 1552.4h0M1226.6 1551.4h0M1227.6 1550.4h0M1228.6 1551.5h0M1229.7 1553.2h0M1230.7 1550.3h0M1231.8 1547.9h0M1232.8 1547.1h0M1233.8 1547.9h0M1234.9 1549h0M1235.9 1550.1h0M1237 1548.9h0M1238 1549.3h0M1239 1549.9h0M1240.1 1550.7h0M1241.1 1549h0M1242.2 1550.4h0M1243.2 1549.3h0M1244.2 1549.5h0M1245.3 1551.3h0M1246.3 1551.1h0M1247.4 1551.5h0M1248.4 1551.3h0M1249.4 1552.7h0M1250.5 1554.2h0M1251.5 1552.8h0M1252.6 1553h0M1253.6 1552.1h0M1254.6 1552.4h0M1255.7 1549.8h0M1256.7 1553h0M1257.8 1552.1h0M1258.8 1553.5h0M1259.8 1554.9h0M1260.9 1552.4h0M1261.9 1553.2h0M1263 1553.9h0M1264 1554.1h0M1265 1554.6h0M1266.1 1550.7h0M1267.1 1553.9h0M1268.2 1554.2h0M1269.2 1555.6h0M1270.2 1553.6h0M1271.3 1550.9h0M1272.3 1550.7h0M1273.4 1552.8h0M1274.4 1550.3h0M1275.4 1549.5h0M1276.5 1548.8h0M1277.5 1550.5h0M1278.6 1551.4h0M1279.6 1550.8h0M1280.6 1550h0M1281.7 1550.4h0M1282.7 1547.7h0M1283.8 1547.1h0M1284.8 1545.5h0M1285.8 1545.6h0M1286.9 1546h0M1287.9 1549.3h0M1289 1548.4h0M1290 1550.2h0M1291 1548.1h0M1292.1 1548.3h0M1293.1 1547.8h0M1294.2 1549.6h0M1295.2 1550.1h0M1296.2 1549.6h0M1297.3 1550h0M1298.3 1549.1h0M1299.4 1549.5h0M1300.4 1548.8h0M1301.4 1549.7h0M1302.5 1547.4h0M1303.5 1547.5h0M1304.6 1549.9h0M1305.6 1549.3h0M1306.6 1549h0M1307.7 1550.2h0M1308.7 1550.3h0M1309.8 1548.5h0M1310.8 1548.7h0M1311.8 1548.1h0M1312.9 1549h0M1313.9 1551.6h0M1315 1553.1h0M1316 1552.8h0M1317 1550h0M1318.1 1549.8h0M1319.1 1549.2h0M1320.2 1551.6h0M1321.2 1550.6h0M1322.2 1551h0M1323.3 1552.6h0M1324.3 1551.5h0M1325.4 1549.1h0M1326.4 1547.3h0M1327.4 1548.3h0M1328.5 1547.6h0M1329.5 1550.4h0M1330.6 1548.5h0M1331.6 1549.3h0M1332.6 1549.4h0M1333.7 1549.4h0M1334.7 1550.9h0M1335.8 1551.1h0M1336.8 1550.5h0M1337.8 1550.4h0M1338.9 1551h0M1339.9 1550.5h0M1341 1551.8h0M1342 1551.3h0M1343 1550.9h0M1344.1 1552.6h0M1345.1 1551.8h0M1346.2 1553.2h0M1347.2 1554h0M1348.2 1555.1h0M1349.3 1554.9h0M1350.3 1554.5h0M1351.4 1556.3h0M1352.4 1554.7h0M1353.4 1554.3h0M1354.5 1555.9h0M1355.5 1559h0M1356.6 1559.4h0M1357.6 1558.2h0M1358.6 1557.9h0M1359.7 1560.2h0M1360.7 1560.7h0M1361.8 1563.3h0M1362.8 1565.7h0M1363.8 1563.9h0M1364.9 1563.3h0M1365.9 1564.9h0M1367 1566.3h0M1368 1568.8h0M1369 1569h0M1370.1 1570.9h0M1371.1 1574.2h0M1372.2 1577.2h0M1373.2 1580.8h0M1374.2 1584h0M1375.3 1588.2h0M1376.3 1592.7h0M1377.4 1598.7h0M1378.4 1607.1h0M1379.4 1619.8h0M1380.5 1637.1h0M1381.5 1657.2h0M1382.6 1678.4h0M1383.6 1704.1h0M1384.6 1728.3h0M1385.7 1742.7h0M1386.7 1754.3h0M1387.8 1764h0M1388.8 1772.9h0M1389.8 1797.6h0M1390.9 1785.2h0M1391.9 1775.5h0M1393 1764.6h0M1394 1752.6h0M1395 1739.2h0M1396.1 1721.7h0M1397.1 1700.1h0M1398.2 1676.5h0M1399.2 1656.9h0M1400.2 1642.3h0M1401.3 1632.3h0M1402.3 1623.4h0M1403.4 1614.4h0M1404.4 1607.7h0M1405.4 1601.4h0M1406.5 1599.3h0M1407.5 1597.8h0M1408.6 1594.9h0M1409.6 1594.3h0M1410.6 1594.1h0M1411.7 1593.5h0M1412.7 1591.4h0M1413.8 1587h0M1414.8 1582.8h0M1415.8 1581.3h0M1416.9 1584.9h0M1417.9 1586.1h0M1419 1588.8h0M1420 1590.7h0M1421 1589h0M1422.1 1590.4h0M1423.1 1589.2h0M1424.2 1589.4h0M1425.2 1594.2h0M1426.2 1599.3h0M1427.3 1605.3h0M1428.3 1612.1h0M1429.4 1619.6h0M1430.4 1629.9h0M1431.4 1641.8h0M1432.5 1655.5h0M1433.5 1670.9h0M1434.6 1686.8h0M1435.6 1705.5h0M1436.6 1727.7h0M1437.7 1749h0M1438.7 1762.8h0M1439.8 1775.3h0M1440.8 1785.6h0M1441.8 1794.7h0M1442.9 1806h0M1443.9 1807h0M1445 1801.8h0M1446 1798h0M1447 1790.6h0M1448.1 1782.1h0M1449.1 1771.7h0M1450.2 1761.3h0M1451.2 1750.9h0M1452.2 1740h0M1453.3 1729.7h0M1454.3 1719.4h0M1455.4 1705.2h0M1456.4 1689.3h0M1457.4 1674.9h0M1458.5 1660.3h0M1459.5 1648.1h0M1460.6 1638.8h0M1461.6 1631.8h0M1462.6 1623.6h0M1463.7 1615.4h0M1464.7 1608.2h0M1465.8 1600.8h0M1466.8 1595.3h0M1467.8 1589.8h0M1468.9 1584.3h0M1469.9 1579.2h0M1471 1577.6h0M1472 1575.8h0M1473 1575.1h0M1474.1 1573.7h0M1475.1 1571.3h0M1476.2 1568.9h0M1477.2 1567.8h0M1478.2 1567.3h0M1479.3 1563.4h0M1480.3 1563.4h0M1481.4 1561.9h0M1482.4 1562.6h0M1483.4 1566.5h0M1484.5 1567.9h0M1485.5 1570.4h0M1486.6 1568h0M1487.6 1566h0M1488.6 1568.7h0M1489.7 1565.3h0M1490.7 1563.4h0M1491.8 1559.8h0M1492.8 1553.9h0M1493.8 1546.9h0M1494.9 1549.4h0M1495.9 1550.4h0M1497 1548.8h0M1498 1548.2h0M1499 1548h0M1500.1 1548.1h0M1501.1 1547.1h0M1502.2 1548.2h0M1503.2 1550.7h0M1504.2 1551.5h0M1505.3 1553.7h0M1506.3 1553.3h0M1507.4 1555.7h0M1508.4 1554.4h0M1509.4 1555.1h0M1510.5 1555.6h0M1511.5 1558.1h0M1512.6 1560.9h0M1513.6 1564.9h0M1514.6 1568.1h0M1515.7 1571.8h0M1516.7 1575.8h0M1517.8 1580.3h0M1518.8 1586.9h0M1519.8 1594.4h0M1520.9 1604.1h0M1521.9 1616.6h0M1523 1630h0M1524 1642.6h0M1525 1655.8h0M1526.1 1666.2h0M1527.1 1668.3h0M1528.2 1664h0M1529.2 1660.4h0M1530.2 1657.7h0M1531.3 1653.8h0M1532.3 1650.9h0M1533.4 1648.6h0M1534.4 1645.8h0M1535.4 1645.3h0M1536.5 1651.2h0M1537.5 1654h0M1538.6 1657h0M1539.6 1660.7h0M1540.6 1665h0M1541.7 1669.5h0M1542.7 1673.7h0M1543.8 1678.6h0M1544.8 1685.7h0M1545.8 1692.9h0M1546.9 1692.7h0M1547.9 1691.2h0M1549 1685h0M1550 1681.9h0M1551 1676.3h0M1552.1 1672.7h0M1553.1 1667.8h0M1554.2 1671.9h0M1555.2 1677.4h0M1556.2 1681.5h0M1557.3 1685.6h0M1558.3 1690.5h0M1559.4 1678.2h0M1560.4 1665.4h0M1561.4 1648.7h0M1562.5 1631.3h0M1563.5 1615.9h0M1564.6 1605.6h0M1565.6 1598.4h0M1566.6 1596.2h0M1567.7 1594h0M1568.7 1591.4h0M1569.8 1591.4h0M1570.8 1594.1h0M1571.8 1594.4h0M1572.9 1596.2h0M1573.9 1597.2h0M1575 1601.3h0M1576 1606.1h0M1577 1610.7h0M1578.1 1620.6h0M1579.1 1634.1h0M1580.2 1651.6h0M1581.2 1669.4h0M1582.2 1682h0M1583.3 1690.1h0M1584.3 1686.5h0M1585.4 1682.4h0M1586.4 1679.4h0M1587.4 1677.4h0M1588.5 1672.9h0M1589.5 1668.6h0M1590.6 1664.5h0M1591.6 1660h0M1592.6 1656.5h0M1593.7 1652.1h0M1594.7 1647.9h0M1595.8 1643.4h0M1596.8 1638.8h0M1597.8 1631.3h0M1598.9 1623.4h0M1599.9 1616.8h0M1601 1610.2h0M1602 1610.6h0M1603 1611.6h0M1604.1 1612.5h0M1605.1 1612.7h0M1606.2 1612.8h0M1607.2 1607.6h0M1608.2 1602.8h0M1609.3 1598.7h0M1610.3 1597.1h0M1611.4 1596.8h0M1612.4 1595.5h0M1613.4 1593.3h0M1614.5 1596.4h0M1615.5 1599.3h0M1616.6 1602.7h0M1617.6 1606.4h0M1618.6 1609h0M1619.7 1612.1h0M1620.7 1616h0M1621.8 1618.7h0M1622.8 1618.4h0M1623.8 1617.6h0M1624.9 1616.3h0M1625.9 1617.1h0M1627 1619.3h0M1628 1622.2h0M1629 1619h0M1630.1 1618.5h0M1631.1 1621.3h0M1632.2 1624.7h0M1633.2 1628h0M1634.2 1630.7h0M1635.3 1634h0M1636.3 1640.6h0M1637.4 1647.7h0M1638.4 1662.4h0M1639.4 1677.5h0M1640.5 1687.7h0M1641.5 1696.8h0M1642.6 1704.4h0M1643.6 1711.6h0M1644.6 1719.2h0M1645.7 1727.5h0M1646.7 1742.8h0M1647.8 1757.1h0M1648.8 1770.5h0M1649.8 1783h0M1650.9 1792.6h0M1651.9 1801.7h0M1653 1810h0M1654 1817.4h0M1655 1825h0M1656.1 1833h0M1657.1 1833.5h0M1658.2 1828.8h0M1659.2 1822.9h0M1660.2 1816.2h0M1661.3 1809h0M1662.3 1793.7h0M1663.4 1771.9h0M1664.4 1754.8h0M1665.4 1735.2h0M1666.5 1716.1h0M1667.5 1701.6h0M1668.6 1689.9h0M1669.6 1676.7h0M1670.6 1676.9h0M1671.7 1683.6h0M1672.7 1692.7h0M1673.8 1705.8h0M1674.8 1721.3h0M1675.8 1734.4h0M1676.9 1748.4h0M1677.9 1760.6h0M1679 1770.4h0M1680 1767.8h0M1681 1764.7h0M1682.1 1757.1h0M1683.1 1739.6h0M1684.2 1720.9h0M1685.2 1705.1h0M1686.2 1695.9h0M1687.3 1687.9h0M1688.3 1680.7h0M1689.4 1675h0M1690.4 1670.8h0M1691.4 1667.8h0M1692.5 1663.5h0M1693.5 1664.6h0M1694.6 1664h0M1695.6 1663.5h0M1696.6 1664.1h0M1697.7 1667.5h0M1698.7 1670.4h0M1699.8 1676.5h0M1700.8 1684.1h0M1701.8 1697.6h0M1702.9 1709.6h0M1703.9 1715h0M1705 1713.1h0M1706 1711.2h0M1707 1708h0M1708.1 1706.9h0M1709.1 1702h0M1710.2 1700.6h0M1711.2 1699.3h0M1712.2 1701.9h0M1713.3 1704.7h0M1714.3 1706h0M1715.4 1708h0M1716.4 1709.4h0M1717.4 1710.6h0M1718.5 1715.8h0M1719.5 1720.2h0M1720.6 1724.8h0M1721.6 1728.2h0M1722.6 1730.8h0M1723.7 1735.1h0M1724.7 1737.6h0M1725.8 1741h0M1726.8 1739.9h0M1727.8 1742.1h0M1728.9 1739.9h0M1729.9 1735.8h0M1731 1733.8h0M1732 1731.5h0M1733 1728.9h0M1734.1 1726.4h0M1735.1 1722.8h0M1736.2 1720.6h0M1737.2 1716.8h0M1738.2 1710.9h0M1739.3 1705.7h0M1740.3 1699.5h0M1741.4 1693.4h0M1742.4 1687.6h0M1743.4 1681.8h0M1744.5 1676h0M1745.5 1670.7h0M1746.6 1665.8h0M1747.6 1661.9h0M1748.6 1658.1h0M1749.7 1655.5h0M1750.7 1652h0M1751.8 1648.8h0M1752.8 1648.6h0M1753.8 1654.8h0M1754.9 1660h0M1755.9 1665h0M1757 1670.2h0M1758 1675.2h0M1759 1677.6h0M1760.1 1677.6h0M1761.1 1678.6h0M1762.2 1677.1h0M1763.2 1679.1h0M1764.2 1682.1h0M1765.3 1688.1h0M1766.3 1691.7h0M1767.4 1696.7h0M1768.4 1701.2h0M1769.4 1704.8h0M1770.5 1711.1h0M1771.5 1709.5h0M1772.6 1704.5h0M1773.6 1701.8h0M1774.6 1698.2h0M1775.7 1691h0M1776.7 1682.9h0M1777.8 1668.2h0M1778.8 1652.9h0M1779.8 1638.1h0M1780.9 1626.7h0M1781.9 1618h0M1783 1612h0M1784 1609.5h0M1785 1607.3h0M1786.1 1604.9h0M1787.1 1608h0M1788.2 1607.8h0M1789.2 1610.2h0M1790.2 1611.1h0M1791.3 1615.2h0M1792.3 1620.4h0M1793.4 1626h0M1794.4 1633.4h0M1795.4 1641.1h0M1796.5 1648.3h0M1797.5 1655.9h0M1798.6 1664.7h0M1799.6 1669.3h0M1800.6 1662.7h0M1801.7 1656.1h0M1802.7 1650.6h0M1803.8 1644.5h0M1804.8 1638.3h0M1805.8 1633.5h0M1806.9 1630.2h0M1807.9 1627.3h0M1809 1627.2h0M1810 1626.1h0M1811 1629.5h0M1812.1 1626.9h0M1813.1 1628.3h0M1814.2 1626.9h0M1815.2 1627.2h0M1816.2 1625.2h0M1817.3 1622.8h0M1818.3 1619.6h0M1819.4 1616.9h0M1820.4 1613.1h0M1821.4 1609.2h0M1822.5 1603.9h0M1823.5 1598.6h0M1824.6 1593.1h0M1825.6 1590.8h0M1826.6 1589.1h0M1827.7 1586.7h0M1828.7 1585h0M1829.8 1582.2h0M1830.8 1581.1h0M1831.8 1579h0M1832.9 1577.9h0M1833.9 1577.3h0M1835 1577.1h0M1836 1581.3h0M1837 1583.2h0M1838.1 1582.4h0M1839.1 1581.6h0M1840.2 1582.7h0M1841.2 1584.8h0M1842.2 1580.9h0M1843.3 1581.9h0M1844.3 1578.7h0M1845.4 1576.6h0M1846.4 1572.5h0M1847.4 1571.7h0M1848.5 1568.8h0M1849.5 1568h0M1850.6 1568.6h0M1851.6 1567.3h0M1852.6 1569.4h0M1853.7 1565.4h0M1854.7 1565.8h0M1855.8 1568.4h0M1856.8 1568.1h0M1857.8 1569.2h0M1858.9 1569.7h0M1859.9 1572h0M1861 1576.2h0M1862 1579.9h0M1863 1583.8h0M1864.1 1589.4h0M1865.1 1598.4h0M1866.2 1605.3h0M1867.2 1612.1h0M1868.2 1616.5h0M1869.3 1616.7h0M1870.3 1620.2h0M1871.4 1616.4h0M1872.4 1611.7h0M1873.4 1606.8h0M1874.5 1592.4h0M1875.5 1583.5h0M1876.6 1575.6h0M1877.6 1571h0M1878.6 1566h0M1879.7 1566.8h0M1880.7 1565.2h0M1881.8 1560.8h0M1882.8 1564.2h0M1883.8 1566.5h0M1884.9 1568.3h0M1885.9 1571.1h0M1887 1573.4h0M1888 1575.7h0M1889 1571.1h0M1890.1 1569.1h0M1891.1 1568.6h0M1892.2 1567.4h0M1893.2 1568.9h0M1894.2 1565.5h0M1895.3 1562.3h0M1896.3 1559.7h0M1897.4 1557.7h0M1898.4 1555.4h0M1899.4 1556.4h0M1900.5 1555.2h0M1901.5 1553.4h0M1902.6 1551.9h0M1903.6 1550.2h0M1904.6 1549.6h0M1905.7 1547.9h0M1906.7 1547.7h0M1907.8 1546h0M1908.8 1546.7h0M1909.8 1548.3h0M1910.9 1547.7h0M1911.9 1548.6h0M1913 1546.5h0M1914 1549.5h0M1915 1548.1h0M1916.1 1546.9h0M1917.1 1548.1h0M1918.2 1548.6h0M1919.2 1549.3h0M1920.2 1550.9h0M1921.3 1550.7h0M1922.3 1554.7h0M1923.4 1553.5h0M1924.4 1556.4h0M1925.4 1560.6h0M1926.5 1562.6h0M1927.5 1565.7h0M1928.6 1568.7h0M1929.6 1571.7h0M1930.6 1574.5h0M1931.7 1583.1h0M1932.7 1592h0M1933.8 1600.6h0M1934.8 1605.4h0M1935.8 1609.7h0M1936.9 1606.2h0M1937.9 1602.5h0M1939 1599.1h0M1940 1589.8h0M1941 1583.8h0M1942.1 1578.7h0M1943.1 1576.1h0M1944.2 1576.2h0M1945.2 1575.8h0M1946.2 1575.7h0M1947.3 1575.2h0M1948.3 1572.3h0M1949.4 1565.8h0M1950.4 1560.3h0M1951.4 1554h0M1952.5 1548.5h0M1953.5 1547.5h0M1954.6 1547.3h0M1955.6 1546.9h0M1956.6 1545.3h0M1957.7 1546.9h0M1958.7 1547.6h0M1959.8 1548.6h0M1960.8 1551h0M1961.8 1549.1h0M1962.9 1549.8h0M1963.9 1550.2h0M1965 1554.9h0M1966 1555.1h0M1967 1555.8h0M1968.1 1556.1h0M1969.1 1560.3h0M1970.2 1564.4h0M1971.2 1565.5h0M1972.2 1562h0M1973.3 1558h0M1974.3 1553.3h0M1975.4 1552h0M1976.4 1549.8h0M1977.4 1546.7h0M1978.5 1554.4h0M1979.5 1567h0M1980.6 1575.8h0M1981.6 1577.2h0M1982.6 1582.5h0M1983.7 1591.8h0M1984.7 1589.3h0M1985.8 1584.3h0M1986.8 1579.1h0M1987.8 1583.3h0M1988.9 1587.3h0M1989.9 1593.5h0M1991 1601.4h0M1992 1577.7h0" fill="none" stroke="#000" stroke-width="8" stroke-linecap="square"/>
<text transform="translate(168.5 2038.3) scale(1 1.085)" font-size="52.3" text-anchor="middle" fill="#000" font-weight="bold">4000</text>
<text transform="translate(383.9 2038.3) scale(1 1.085)" font-size="52.3" text-anchor="middle" fill="#000" font-weight="bold">3600</text>
<text transform="translate(599.3 2038.3) scale(1 1.085)" font-size="52.3" text-anchor="middle" fill="#000" font-weight="bold">3200</text>
<text transform="translate(814.7 2038.3) scale(1 1.085)" font-size="52.3" text-anchor="middle" fill="#000" font-weight="bold">2800</text>
<text transform="translate(1030.1 2038.3) scale(1 1.085)" font-size="52.3" text-anchor="middle" fill="#000" font-weight="bold">2400</text>
<text transform="translate(1245.5 2038.3) scale(1 1.085)" font-size="52.3" text-anchor="middle" fill="#000" font-weight="bold">2000</text>
<text transform="translate(1460.9 2038.3) scale(1 1.085)" font-size="52.3" text-anchor="middle" fill="#000" font-weight="bold">1600</text>
<text transform="translate(1676.3 2038.3) scale(1 1.085)" font-size="52.3" text-anchor="middle" fill="#000" font-weight="bold">1200</text>
<text transform="translate(1891.7 2038.3) scale(1 1.085)" font-size="52.3" text-anchor="middle" fill="#000" font-weight="bold">800</text>
<text transform="translate(799.5 2188.6) scale(1 1.04)" font-size="69.3" text-anchor="start" fill="#000" font-weight="bold" letter-spacing="-1.1">Wavenumber (cm<tspan font-size="54" dy="-28.5" dx="1.5">-1</tspan><tspan dy="28.5" dx="2">)</tspan></text>
<text transform="translate(51.2 934.6) rotate(-90) scale(1 1.04)" font-size="68" text-anchor="middle" fill="#000" font-weight="bold">Transmittance (a.u.)</text>
<text transform="translate(180.3 287) scale(1 1.012)" font-size="68.3" text-anchor="start" fill="#3f8d0d" font-weight="bold">Sol/SPI/Mp</text>
<text transform="translate(181.6 866.5) scale(1 1.012)" font-size="68.3" text-anchor="start" fill="#ff990e" font-weight="bold">Sol/SPI</text>
<text transform="translate(181 1503) scale(1 1.008)" font-size="68.3" text-anchor="start" fill="#000" font-weight="bold">Sol</text>
<text transform="translate(762.6 1800.6) rotate(-90) scale(1 1.07)" font-size="39.9" text-anchor="start" fill="#000" stroke="#000" stroke-width="1.5" stroke-linejoin="round">2922</text>
<text transform="translate(813.2 1751.6) rotate(-90) scale(1 1.07)" font-size="39.9" text-anchor="start" fill="#000" stroke="#000" stroke-width="1.5" stroke-linejoin="round">2862</text>
<text transform="translate(1394.2 1896.2) rotate(-90) scale(1 1.07)" font-size="39.9" text-anchor="start" fill="#000" stroke="#000" stroke-width="1.5" stroke-linejoin="round">1730</text>
<text transform="translate(1457.8 1909.3) rotate(-90) scale(1 1.07)" font-size="39.9" text-anchor="start" fill="#000" stroke="#000" stroke-width="1.5" stroke-linejoin="round">1631</text>
<text transform="translate(1536.8 1796.4) rotate(-90) scale(1 1.07)" font-size="39.9" text-anchor="start" fill="#000" stroke="#000" stroke-width="1.5" stroke-linejoin="round">1477</text>
<text transform="translate(1574.2 1823.4) rotate(-90) scale(1 1.07)" font-size="39.9" text-anchor="start" fill="#000" stroke="#000" stroke-width="1.5" stroke-linejoin="round">1444</text>
<text transform="translate(1646 1908.2) rotate(-90) scale(1 1.07)" font-size="39.9" text-anchor="start" fill="#000" stroke="#000" stroke-width="1.5" stroke-linejoin="round">1236</text>
<text transform="translate(1751.6 1852.8) rotate(-90) scale(1 1.07)" font-size="39.9" text-anchor="start" fill="#000" stroke="#000" stroke-width="1.5" stroke-linejoin="round">1110</text>
<text transform="translate(1497.6 1104.6) rotate(-90) scale(1 1.07)" font-size="39.9" text-anchor="start" fill="#000" stroke="#000" stroke-width="1.5" stroke-linejoin="round">1544</text>
</g>
</svg>
</body></html>
